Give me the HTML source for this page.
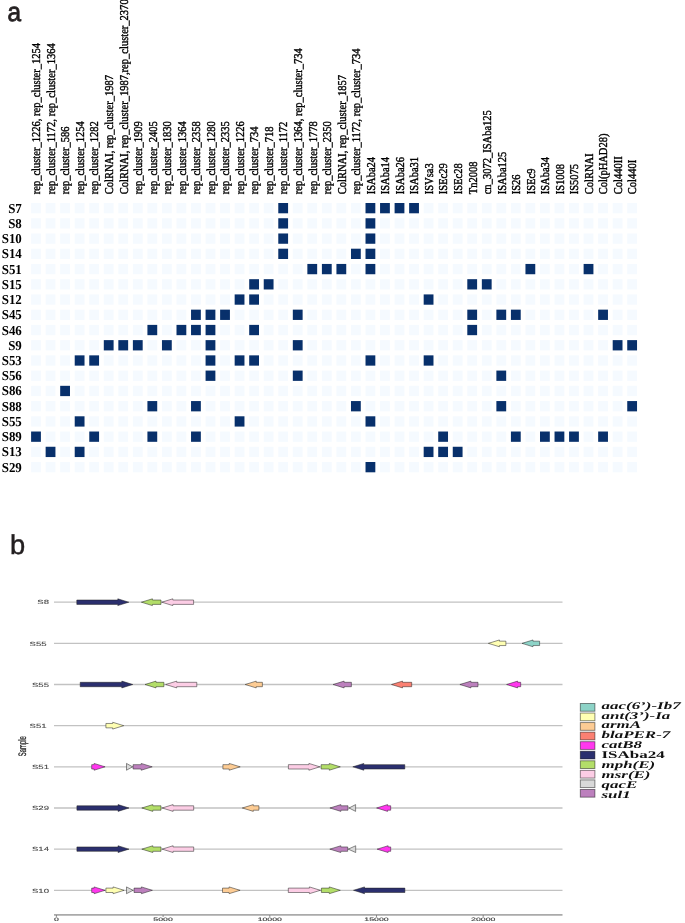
<!DOCTYPE html><html><head><meta charset="utf-8"><style>html,body{margin:0;padding:0;background:#fff;width:685px;height:923px;overflow:hidden}svg{display:block;will-change:transform}</style></head><body><svg width="685" height="923" viewBox="0 0 685 923" text-rendering="geometricPrecision">
<rect width="685" height="923" fill="#fff"/>
<text transform="translate(7.6,21.2) scale(0.92,1)" font-family="Liberation Sans, sans-serif" font-size="26.5" fill="#231f20" stroke="#231f20" stroke-width="0.8">a</text>
<text transform="translate(40.30,194.30) rotate(-90) scale(0.877,1)" font-family="Liberation Serif, serif" font-size="12.0" fill="#000" stroke="#000" stroke-width="0.4">rep_cluster_1226, rep_cluster_1254</text>
<text transform="translate(54.84,194.30) rotate(-90) scale(0.877,1)" font-family="Liberation Serif, serif" font-size="12.0" fill="#000" stroke="#000" stroke-width="0.4">rep_cluster_1172, rep_cluster_1364</text>
<text transform="translate(69.38,194.30) rotate(-90) scale(0.877,1)" font-family="Liberation Serif, serif" font-size="12.0" fill="#000" stroke="#000" stroke-width="0.4">rep_cluster_586</text>
<text transform="translate(83.92,194.30) rotate(-90) scale(0.877,1)" font-family="Liberation Serif, serif" font-size="12.0" fill="#000" stroke="#000" stroke-width="0.4">rep_cluster_1254</text>
<text transform="translate(98.46,194.30) rotate(-90) scale(0.877,1)" font-family="Liberation Serif, serif" font-size="12.0" fill="#000" stroke="#000" stroke-width="0.4">rep_cluster_1282</text>
<text transform="translate(113.00,194.30) rotate(-90) scale(0.877,1)" font-family="Liberation Serif, serif" font-size="12.0" fill="#000" stroke="#000" stroke-width="0.4">ColRNAI, rep_cluster_1987</text>
<text transform="translate(127.54,194.30) rotate(-90) scale(0.877,1)" font-family="Liberation Serif, serif" font-size="12.0" fill="#000" stroke="#000" stroke-width="0.4">ColRNAI, rep_cluster_1987,rep_cluster_2370</text>
<text transform="translate(142.08,194.30) rotate(-90) scale(0.877,1)" font-family="Liberation Serif, serif" font-size="12.0" fill="#000" stroke="#000" stroke-width="0.4">rep_cluster_1909</text>
<text transform="translate(156.62,194.30) rotate(-90) scale(0.877,1)" font-family="Liberation Serif, serif" font-size="12.0" fill="#000" stroke="#000" stroke-width="0.4">rep_cluster_2405</text>
<text transform="translate(171.16,194.30) rotate(-90) scale(0.877,1)" font-family="Liberation Serif, serif" font-size="12.0" fill="#000" stroke="#000" stroke-width="0.4">rep_cluster_1830</text>
<text transform="translate(185.70,194.30) rotate(-90) scale(0.877,1)" font-family="Liberation Serif, serif" font-size="12.0" fill="#000" stroke="#000" stroke-width="0.4">rep_cluster_1364</text>
<text transform="translate(200.24,194.30) rotate(-90) scale(0.877,1)" font-family="Liberation Serif, serif" font-size="12.0" fill="#000" stroke="#000" stroke-width="0.4">rep_cluster_2358</text>
<text transform="translate(214.78,194.30) rotate(-90) scale(0.877,1)" font-family="Liberation Serif, serif" font-size="12.0" fill="#000" stroke="#000" stroke-width="0.4">rep_cluster_1280</text>
<text transform="translate(229.32,194.30) rotate(-90) scale(0.877,1)" font-family="Liberation Serif, serif" font-size="12.0" fill="#000" stroke="#000" stroke-width="0.4">rep_cluster_2335</text>
<text transform="translate(243.86,194.30) rotate(-90) scale(0.877,1)" font-family="Liberation Serif, serif" font-size="12.0" fill="#000" stroke="#000" stroke-width="0.4">rep_cluster_1226</text>
<text transform="translate(258.40,194.30) rotate(-90) scale(0.877,1)" font-family="Liberation Serif, serif" font-size="12.0" fill="#000" stroke="#000" stroke-width="0.4">rep_cluster_734</text>
<text transform="translate(272.94,194.30) rotate(-90) scale(0.877,1)" font-family="Liberation Serif, serif" font-size="12.0" fill="#000" stroke="#000" stroke-width="0.4">rep_cluster_718</text>
<text transform="translate(287.48,194.30) rotate(-90) scale(0.877,1)" font-family="Liberation Serif, serif" font-size="12.0" fill="#000" stroke="#000" stroke-width="0.4">rep_cluster_1172</text>
<text transform="translate(302.02,194.30) rotate(-90) scale(0.877,1)" font-family="Liberation Serif, serif" font-size="12.0" fill="#000" stroke="#000" stroke-width="0.4">rep_cluster_1364, rep_cluster_734</text>
<text transform="translate(316.56,194.30) rotate(-90) scale(0.877,1)" font-family="Liberation Serif, serif" font-size="12.0" fill="#000" stroke="#000" stroke-width="0.4">rep_cluster_1778</text>
<text transform="translate(331.10,194.30) rotate(-90) scale(0.877,1)" font-family="Liberation Serif, serif" font-size="12.0" fill="#000" stroke="#000" stroke-width="0.4">rep_cluster_2350</text>
<text transform="translate(345.64,194.30) rotate(-90) scale(0.877,1)" font-family="Liberation Serif, serif" font-size="12.0" fill="#000" stroke="#000" stroke-width="0.4">ColRNAI, rep_cluster_1857</text>
<text transform="translate(360.18,194.30) rotate(-90) scale(0.877,1)" font-family="Liberation Serif, serif" font-size="12.0" fill="#000" stroke="#000" stroke-width="0.4">rep_cluster_1172, rep_cluster_734</text>
<text transform="translate(374.72,194.30) rotate(-90) scale(0.877,1)" font-family="Liberation Serif, serif" font-size="12.0" fill="#000" stroke="#000" stroke-width="0.4">ISAba24</text>
<text transform="translate(389.26,194.30) rotate(-90) scale(0.877,1)" font-family="Liberation Serif, serif" font-size="12.0" fill="#000" stroke="#000" stroke-width="0.4">ISAba14</text>
<text transform="translate(403.80,194.30) rotate(-90) scale(0.877,1)" font-family="Liberation Serif, serif" font-size="12.0" fill="#000" stroke="#000" stroke-width="0.4">ISAba26</text>
<text transform="translate(418.34,194.30) rotate(-90) scale(0.877,1)" font-family="Liberation Serif, serif" font-size="12.0" fill="#000" stroke="#000" stroke-width="0.4">ISAba31</text>
<text transform="translate(432.88,194.30) rotate(-90) scale(0.877,1)" font-family="Liberation Serif, serif" font-size="12.0" fill="#000" stroke="#000" stroke-width="0.4">ISVsa3</text>
<text transform="translate(447.42,194.30) rotate(-90) scale(0.877,1)" font-family="Liberation Serif, serif" font-size="12.0" fill="#000" stroke="#000" stroke-width="0.4">ISEc29</text>
<text transform="translate(461.96,194.30) rotate(-90) scale(0.877,1)" font-family="Liberation Serif, serif" font-size="12.0" fill="#000" stroke="#000" stroke-width="0.4">ISEc28</text>
<text transform="translate(476.50,194.30) rotate(-90) scale(0.877,1)" font-family="Liberation Serif, serif" font-size="12.0" fill="#000" stroke="#000" stroke-width="0.4">Tn2008</text>
<text transform="translate(491.04,194.30) rotate(-90) scale(0.877,1)" font-family="Liberation Serif, serif" font-size="12.0" fill="#000" stroke="#000" stroke-width="0.4">cn_3072_ISAba125</text>
<text transform="translate(505.58,194.30) rotate(-90) scale(0.877,1)" font-family="Liberation Serif, serif" font-size="12.0" fill="#000" stroke="#000" stroke-width="0.4">ISAba125</text>
<text transform="translate(520.12,194.30) rotate(-90) scale(0.877,1)" font-family="Liberation Serif, serif" font-size="12.0" fill="#000" stroke="#000" stroke-width="0.4">IS26</text>
<text transform="translate(534.66,194.30) rotate(-90) scale(0.877,1)" font-family="Liberation Serif, serif" font-size="12.0" fill="#000" stroke="#000" stroke-width="0.4">ISEc9</text>
<text transform="translate(549.20,194.30) rotate(-90) scale(0.877,1)" font-family="Liberation Serif, serif" font-size="12.0" fill="#000" stroke="#000" stroke-width="0.4">ISAba34</text>
<text transform="translate(563.74,194.30) rotate(-90) scale(0.877,1)" font-family="Liberation Serif, serif" font-size="12.0" fill="#000" stroke="#000" stroke-width="0.4">IS1008</text>
<text transform="translate(578.28,194.30) rotate(-90) scale(0.877,1)" font-family="Liberation Serif, serif" font-size="12.0" fill="#000" stroke="#000" stroke-width="0.4">IS5075</text>
<text transform="translate(592.82,194.30) rotate(-90) scale(0.877,1)" font-family="Liberation Serif, serif" font-size="12.0" fill="#000" stroke="#000" stroke-width="0.4">ColRNAI</text>
<text transform="translate(607.36,194.30) rotate(-90) scale(0.877,1)" font-family="Liberation Serif, serif" font-size="12.0" fill="#000" stroke="#000" stroke-width="0.4">Col(pHAD28)</text>
<text transform="translate(621.90,194.30) rotate(-90) scale(0.877,1)" font-family="Liberation Serif, serif" font-size="12.0" fill="#000" stroke="#000" stroke-width="0.4">Col440II</text>
<text transform="translate(636.44,194.30) rotate(-90) scale(0.877,1)" font-family="Liberation Serif, serif" font-size="12.0" fill="#000" stroke="#000" stroke-width="0.4">Col440I</text>
<text transform="translate(21.8,212.65) scale(0.95,1)" text-anchor="end" font-family="Liberation Serif, serif" font-weight="bold" font-size="13.6" fill="#000">S7</text>
<rect x="31.10" y="203.00" width="9.8" height="10.3" fill="#f5faff"/>
<rect x="45.64" y="203.00" width="9.8" height="10.3" fill="#f5faff"/>
<rect x="60.18" y="203.00" width="9.8" height="10.3" fill="#f5faff"/>
<rect x="74.72" y="203.00" width="9.8" height="10.3" fill="#f5faff"/>
<rect x="89.26" y="203.00" width="9.8" height="10.3" fill="#f5faff"/>
<rect x="103.80" y="203.00" width="9.8" height="10.3" fill="#f5faff"/>
<rect x="118.34" y="203.00" width="9.8" height="10.3" fill="#f5faff"/>
<rect x="132.88" y="203.00" width="9.8" height="10.3" fill="#f5faff"/>
<rect x="147.42" y="203.00" width="9.8" height="10.3" fill="#f5faff"/>
<rect x="161.96" y="203.00" width="9.8" height="10.3" fill="#f5faff"/>
<rect x="176.50" y="203.00" width="9.8" height="10.3" fill="#f5faff"/>
<rect x="191.04" y="203.00" width="9.8" height="10.3" fill="#f5faff"/>
<rect x="205.58" y="203.00" width="9.8" height="10.3" fill="#f5faff"/>
<rect x="220.12" y="203.00" width="9.8" height="10.3" fill="#f5faff"/>
<rect x="234.66" y="203.00" width="9.8" height="10.3" fill="#f5faff"/>
<rect x="249.20" y="203.00" width="9.8" height="10.3" fill="#f5faff"/>
<rect x="263.74" y="203.00" width="9.8" height="10.3" fill="#f5faff"/>
<rect x="278.28" y="203.00" width="9.8" height="10.3" fill="#08306b"/>
<rect x="292.82" y="203.00" width="9.8" height="10.3" fill="#f5faff"/>
<rect x="307.36" y="203.00" width="9.8" height="10.3" fill="#f5faff"/>
<rect x="321.90" y="203.00" width="9.8" height="10.3" fill="#f5faff"/>
<rect x="336.44" y="203.00" width="9.8" height="10.3" fill="#f5faff"/>
<rect x="350.98" y="203.00" width="9.8" height="10.3" fill="#f5faff"/>
<rect x="365.52" y="203.00" width="9.8" height="10.3" fill="#08306b"/>
<rect x="380.06" y="203.00" width="9.8" height="10.3" fill="#08306b"/>
<rect x="394.60" y="203.00" width="9.8" height="10.3" fill="#08306b"/>
<rect x="409.14" y="203.00" width="9.8" height="10.3" fill="#08306b"/>
<rect x="423.68" y="203.00" width="9.8" height="10.3" fill="#f5faff"/>
<rect x="438.22" y="203.00" width="9.8" height="10.3" fill="#f5faff"/>
<rect x="452.76" y="203.00" width="9.8" height="10.3" fill="#f5faff"/>
<rect x="467.30" y="203.00" width="9.8" height="10.3" fill="#f5faff"/>
<rect x="481.84" y="203.00" width="9.8" height="10.3" fill="#f5faff"/>
<rect x="496.38" y="203.00" width="9.8" height="10.3" fill="#f5faff"/>
<rect x="510.92" y="203.00" width="9.8" height="10.3" fill="#f5faff"/>
<rect x="525.46" y="203.00" width="9.8" height="10.3" fill="#f5faff"/>
<rect x="540.00" y="203.00" width="9.8" height="10.3" fill="#f5faff"/>
<rect x="554.54" y="203.00" width="9.8" height="10.3" fill="#f5faff"/>
<rect x="569.08" y="203.00" width="9.8" height="10.3" fill="#f5faff"/>
<rect x="583.62" y="203.00" width="9.8" height="10.3" fill="#f5faff"/>
<rect x="598.16" y="203.00" width="9.8" height="10.3" fill="#f5faff"/>
<rect x="612.70" y="203.00" width="9.8" height="10.3" fill="#f5faff"/>
<rect x="627.24" y="203.00" width="9.8" height="10.3" fill="#f5faff"/>
<text transform="translate(21.8,227.89) scale(0.95,1)" text-anchor="end" font-family="Liberation Serif, serif" font-weight="bold" font-size="13.6" fill="#000">S8</text>
<rect x="31.10" y="218.24" width="9.8" height="10.3" fill="#f5faff"/>
<rect x="45.64" y="218.24" width="9.8" height="10.3" fill="#f5faff"/>
<rect x="60.18" y="218.24" width="9.8" height="10.3" fill="#f5faff"/>
<rect x="74.72" y="218.24" width="9.8" height="10.3" fill="#f5faff"/>
<rect x="89.26" y="218.24" width="9.8" height="10.3" fill="#f5faff"/>
<rect x="103.80" y="218.24" width="9.8" height="10.3" fill="#f5faff"/>
<rect x="118.34" y="218.24" width="9.8" height="10.3" fill="#f5faff"/>
<rect x="132.88" y="218.24" width="9.8" height="10.3" fill="#f5faff"/>
<rect x="147.42" y="218.24" width="9.8" height="10.3" fill="#f5faff"/>
<rect x="161.96" y="218.24" width="9.8" height="10.3" fill="#f5faff"/>
<rect x="176.50" y="218.24" width="9.8" height="10.3" fill="#f5faff"/>
<rect x="191.04" y="218.24" width="9.8" height="10.3" fill="#f5faff"/>
<rect x="205.58" y="218.24" width="9.8" height="10.3" fill="#f5faff"/>
<rect x="220.12" y="218.24" width="9.8" height="10.3" fill="#f5faff"/>
<rect x="234.66" y="218.24" width="9.8" height="10.3" fill="#f5faff"/>
<rect x="249.20" y="218.24" width="9.8" height="10.3" fill="#f5faff"/>
<rect x="263.74" y="218.24" width="9.8" height="10.3" fill="#f5faff"/>
<rect x="278.28" y="218.24" width="9.8" height="10.3" fill="#08306b"/>
<rect x="292.82" y="218.24" width="9.8" height="10.3" fill="#f5faff"/>
<rect x="307.36" y="218.24" width="9.8" height="10.3" fill="#f5faff"/>
<rect x="321.90" y="218.24" width="9.8" height="10.3" fill="#f5faff"/>
<rect x="336.44" y="218.24" width="9.8" height="10.3" fill="#f5faff"/>
<rect x="350.98" y="218.24" width="9.8" height="10.3" fill="#f5faff"/>
<rect x="365.52" y="218.24" width="9.8" height="10.3" fill="#08306b"/>
<rect x="380.06" y="218.24" width="9.8" height="10.3" fill="#f5faff"/>
<rect x="394.60" y="218.24" width="9.8" height="10.3" fill="#f5faff"/>
<rect x="409.14" y="218.24" width="9.8" height="10.3" fill="#f5faff"/>
<rect x="423.68" y="218.24" width="9.8" height="10.3" fill="#f5faff"/>
<rect x="438.22" y="218.24" width="9.8" height="10.3" fill="#f5faff"/>
<rect x="452.76" y="218.24" width="9.8" height="10.3" fill="#f5faff"/>
<rect x="467.30" y="218.24" width="9.8" height="10.3" fill="#f5faff"/>
<rect x="481.84" y="218.24" width="9.8" height="10.3" fill="#f5faff"/>
<rect x="496.38" y="218.24" width="9.8" height="10.3" fill="#f5faff"/>
<rect x="510.92" y="218.24" width="9.8" height="10.3" fill="#f5faff"/>
<rect x="525.46" y="218.24" width="9.8" height="10.3" fill="#f5faff"/>
<rect x="540.00" y="218.24" width="9.8" height="10.3" fill="#f5faff"/>
<rect x="554.54" y="218.24" width="9.8" height="10.3" fill="#f5faff"/>
<rect x="569.08" y="218.24" width="9.8" height="10.3" fill="#f5faff"/>
<rect x="583.62" y="218.24" width="9.8" height="10.3" fill="#f5faff"/>
<rect x="598.16" y="218.24" width="9.8" height="10.3" fill="#f5faff"/>
<rect x="612.70" y="218.24" width="9.8" height="10.3" fill="#f5faff"/>
<rect x="627.24" y="218.24" width="9.8" height="10.3" fill="#f5faff"/>
<text transform="translate(21.8,243.12) scale(0.95,1)" text-anchor="end" font-family="Liberation Serif, serif" font-weight="bold" font-size="13.6" fill="#000">S10</text>
<rect x="31.10" y="233.47" width="9.8" height="10.3" fill="#f5faff"/>
<rect x="45.64" y="233.47" width="9.8" height="10.3" fill="#f5faff"/>
<rect x="60.18" y="233.47" width="9.8" height="10.3" fill="#f5faff"/>
<rect x="74.72" y="233.47" width="9.8" height="10.3" fill="#f5faff"/>
<rect x="89.26" y="233.47" width="9.8" height="10.3" fill="#f5faff"/>
<rect x="103.80" y="233.47" width="9.8" height="10.3" fill="#f5faff"/>
<rect x="118.34" y="233.47" width="9.8" height="10.3" fill="#f5faff"/>
<rect x="132.88" y="233.47" width="9.8" height="10.3" fill="#f5faff"/>
<rect x="147.42" y="233.47" width="9.8" height="10.3" fill="#f5faff"/>
<rect x="161.96" y="233.47" width="9.8" height="10.3" fill="#f5faff"/>
<rect x="176.50" y="233.47" width="9.8" height="10.3" fill="#f5faff"/>
<rect x="191.04" y="233.47" width="9.8" height="10.3" fill="#f5faff"/>
<rect x="205.58" y="233.47" width="9.8" height="10.3" fill="#f5faff"/>
<rect x="220.12" y="233.47" width="9.8" height="10.3" fill="#f5faff"/>
<rect x="234.66" y="233.47" width="9.8" height="10.3" fill="#f5faff"/>
<rect x="249.20" y="233.47" width="9.8" height="10.3" fill="#f5faff"/>
<rect x="263.74" y="233.47" width="9.8" height="10.3" fill="#f5faff"/>
<rect x="278.28" y="233.47" width="9.8" height="10.3" fill="#08306b"/>
<rect x="292.82" y="233.47" width="9.8" height="10.3" fill="#f5faff"/>
<rect x="307.36" y="233.47" width="9.8" height="10.3" fill="#f5faff"/>
<rect x="321.90" y="233.47" width="9.8" height="10.3" fill="#f5faff"/>
<rect x="336.44" y="233.47" width="9.8" height="10.3" fill="#f5faff"/>
<rect x="350.98" y="233.47" width="9.8" height="10.3" fill="#f5faff"/>
<rect x="365.52" y="233.47" width="9.8" height="10.3" fill="#08306b"/>
<rect x="380.06" y="233.47" width="9.8" height="10.3" fill="#f5faff"/>
<rect x="394.60" y="233.47" width="9.8" height="10.3" fill="#f5faff"/>
<rect x="409.14" y="233.47" width="9.8" height="10.3" fill="#f5faff"/>
<rect x="423.68" y="233.47" width="9.8" height="10.3" fill="#f5faff"/>
<rect x="438.22" y="233.47" width="9.8" height="10.3" fill="#f5faff"/>
<rect x="452.76" y="233.47" width="9.8" height="10.3" fill="#f5faff"/>
<rect x="467.30" y="233.47" width="9.8" height="10.3" fill="#f5faff"/>
<rect x="481.84" y="233.47" width="9.8" height="10.3" fill="#f5faff"/>
<rect x="496.38" y="233.47" width="9.8" height="10.3" fill="#f5faff"/>
<rect x="510.92" y="233.47" width="9.8" height="10.3" fill="#f5faff"/>
<rect x="525.46" y="233.47" width="9.8" height="10.3" fill="#f5faff"/>
<rect x="540.00" y="233.47" width="9.8" height="10.3" fill="#f5faff"/>
<rect x="554.54" y="233.47" width="9.8" height="10.3" fill="#f5faff"/>
<rect x="569.08" y="233.47" width="9.8" height="10.3" fill="#f5faff"/>
<rect x="583.62" y="233.47" width="9.8" height="10.3" fill="#f5faff"/>
<rect x="598.16" y="233.47" width="9.8" height="10.3" fill="#f5faff"/>
<rect x="612.70" y="233.47" width="9.8" height="10.3" fill="#f5faff"/>
<rect x="627.24" y="233.47" width="9.8" height="10.3" fill="#f5faff"/>
<text transform="translate(21.8,258.35) scale(0.95,1)" text-anchor="end" font-family="Liberation Serif, serif" font-weight="bold" font-size="13.6" fill="#000">S14</text>
<rect x="31.10" y="248.70" width="9.8" height="10.3" fill="#f5faff"/>
<rect x="45.64" y="248.70" width="9.8" height="10.3" fill="#f5faff"/>
<rect x="60.18" y="248.70" width="9.8" height="10.3" fill="#f5faff"/>
<rect x="74.72" y="248.70" width="9.8" height="10.3" fill="#f5faff"/>
<rect x="89.26" y="248.70" width="9.8" height="10.3" fill="#f5faff"/>
<rect x="103.80" y="248.70" width="9.8" height="10.3" fill="#f5faff"/>
<rect x="118.34" y="248.70" width="9.8" height="10.3" fill="#f5faff"/>
<rect x="132.88" y="248.70" width="9.8" height="10.3" fill="#f5faff"/>
<rect x="147.42" y="248.70" width="9.8" height="10.3" fill="#f5faff"/>
<rect x="161.96" y="248.70" width="9.8" height="10.3" fill="#f5faff"/>
<rect x="176.50" y="248.70" width="9.8" height="10.3" fill="#f5faff"/>
<rect x="191.04" y="248.70" width="9.8" height="10.3" fill="#f5faff"/>
<rect x="205.58" y="248.70" width="9.8" height="10.3" fill="#f5faff"/>
<rect x="220.12" y="248.70" width="9.8" height="10.3" fill="#f5faff"/>
<rect x="234.66" y="248.70" width="9.8" height="10.3" fill="#f5faff"/>
<rect x="249.20" y="248.70" width="9.8" height="10.3" fill="#f5faff"/>
<rect x="263.74" y="248.70" width="9.8" height="10.3" fill="#f5faff"/>
<rect x="278.28" y="248.70" width="9.8" height="10.3" fill="#08306b"/>
<rect x="292.82" y="248.70" width="9.8" height="10.3" fill="#f5faff"/>
<rect x="307.36" y="248.70" width="9.8" height="10.3" fill="#f5faff"/>
<rect x="321.90" y="248.70" width="9.8" height="10.3" fill="#f5faff"/>
<rect x="336.44" y="248.70" width="9.8" height="10.3" fill="#f5faff"/>
<rect x="350.98" y="248.70" width="9.8" height="10.3" fill="#08306b"/>
<rect x="365.52" y="248.70" width="9.8" height="10.3" fill="#08306b"/>
<rect x="380.06" y="248.70" width="9.8" height="10.3" fill="#f5faff"/>
<rect x="394.60" y="248.70" width="9.8" height="10.3" fill="#f5faff"/>
<rect x="409.14" y="248.70" width="9.8" height="10.3" fill="#f5faff"/>
<rect x="423.68" y="248.70" width="9.8" height="10.3" fill="#f5faff"/>
<rect x="438.22" y="248.70" width="9.8" height="10.3" fill="#f5faff"/>
<rect x="452.76" y="248.70" width="9.8" height="10.3" fill="#f5faff"/>
<rect x="467.30" y="248.70" width="9.8" height="10.3" fill="#f5faff"/>
<rect x="481.84" y="248.70" width="9.8" height="10.3" fill="#f5faff"/>
<rect x="496.38" y="248.70" width="9.8" height="10.3" fill="#f5faff"/>
<rect x="510.92" y="248.70" width="9.8" height="10.3" fill="#f5faff"/>
<rect x="525.46" y="248.70" width="9.8" height="10.3" fill="#f5faff"/>
<rect x="540.00" y="248.70" width="9.8" height="10.3" fill="#f5faff"/>
<rect x="554.54" y="248.70" width="9.8" height="10.3" fill="#f5faff"/>
<rect x="569.08" y="248.70" width="9.8" height="10.3" fill="#f5faff"/>
<rect x="583.62" y="248.70" width="9.8" height="10.3" fill="#f5faff"/>
<rect x="598.16" y="248.70" width="9.8" height="10.3" fill="#f5faff"/>
<rect x="612.70" y="248.70" width="9.8" height="10.3" fill="#f5faff"/>
<rect x="627.24" y="248.70" width="9.8" height="10.3" fill="#f5faff"/>
<text transform="translate(21.8,273.59) scale(0.95,1)" text-anchor="end" font-family="Liberation Serif, serif" font-weight="bold" font-size="13.6" fill="#000">S51</text>
<rect x="31.10" y="263.94" width="9.8" height="10.3" fill="#f5faff"/>
<rect x="45.64" y="263.94" width="9.8" height="10.3" fill="#f5faff"/>
<rect x="60.18" y="263.94" width="9.8" height="10.3" fill="#f5faff"/>
<rect x="74.72" y="263.94" width="9.8" height="10.3" fill="#f5faff"/>
<rect x="89.26" y="263.94" width="9.8" height="10.3" fill="#f5faff"/>
<rect x="103.80" y="263.94" width="9.8" height="10.3" fill="#f5faff"/>
<rect x="118.34" y="263.94" width="9.8" height="10.3" fill="#f5faff"/>
<rect x="132.88" y="263.94" width="9.8" height="10.3" fill="#f5faff"/>
<rect x="147.42" y="263.94" width="9.8" height="10.3" fill="#f5faff"/>
<rect x="161.96" y="263.94" width="9.8" height="10.3" fill="#f5faff"/>
<rect x="176.50" y="263.94" width="9.8" height="10.3" fill="#f5faff"/>
<rect x="191.04" y="263.94" width="9.8" height="10.3" fill="#f5faff"/>
<rect x="205.58" y="263.94" width="9.8" height="10.3" fill="#f5faff"/>
<rect x="220.12" y="263.94" width="9.8" height="10.3" fill="#f5faff"/>
<rect x="234.66" y="263.94" width="9.8" height="10.3" fill="#f5faff"/>
<rect x="249.20" y="263.94" width="9.8" height="10.3" fill="#f5faff"/>
<rect x="263.74" y="263.94" width="9.8" height="10.3" fill="#f5faff"/>
<rect x="278.28" y="263.94" width="9.8" height="10.3" fill="#f5faff"/>
<rect x="292.82" y="263.94" width="9.8" height="10.3" fill="#f5faff"/>
<rect x="307.36" y="263.94" width="9.8" height="10.3" fill="#08306b"/>
<rect x="321.90" y="263.94" width="9.8" height="10.3" fill="#08306b"/>
<rect x="336.44" y="263.94" width="9.8" height="10.3" fill="#08306b"/>
<rect x="350.98" y="263.94" width="9.8" height="10.3" fill="#f5faff"/>
<rect x="365.52" y="263.94" width="9.8" height="10.3" fill="#08306b"/>
<rect x="380.06" y="263.94" width="9.8" height="10.3" fill="#f5faff"/>
<rect x="394.60" y="263.94" width="9.8" height="10.3" fill="#f5faff"/>
<rect x="409.14" y="263.94" width="9.8" height="10.3" fill="#f5faff"/>
<rect x="423.68" y="263.94" width="9.8" height="10.3" fill="#f5faff"/>
<rect x="438.22" y="263.94" width="9.8" height="10.3" fill="#f5faff"/>
<rect x="452.76" y="263.94" width="9.8" height="10.3" fill="#f5faff"/>
<rect x="467.30" y="263.94" width="9.8" height="10.3" fill="#f5faff"/>
<rect x="481.84" y="263.94" width="9.8" height="10.3" fill="#f5faff"/>
<rect x="496.38" y="263.94" width="9.8" height="10.3" fill="#f5faff"/>
<rect x="510.92" y="263.94" width="9.8" height="10.3" fill="#f5faff"/>
<rect x="525.46" y="263.94" width="9.8" height="10.3" fill="#08306b"/>
<rect x="540.00" y="263.94" width="9.8" height="10.3" fill="#f5faff"/>
<rect x="554.54" y="263.94" width="9.8" height="10.3" fill="#f5faff"/>
<rect x="569.08" y="263.94" width="9.8" height="10.3" fill="#f5faff"/>
<rect x="583.62" y="263.94" width="9.8" height="10.3" fill="#08306b"/>
<rect x="598.16" y="263.94" width="9.8" height="10.3" fill="#f5faff"/>
<rect x="612.70" y="263.94" width="9.8" height="10.3" fill="#f5faff"/>
<rect x="627.24" y="263.94" width="9.8" height="10.3" fill="#f5faff"/>
<text transform="translate(21.8,288.82) scale(0.95,1)" text-anchor="end" font-family="Liberation Serif, serif" font-weight="bold" font-size="13.6" fill="#000">S15</text>
<rect x="31.10" y="279.18" width="9.8" height="10.3" fill="#f5faff"/>
<rect x="45.64" y="279.18" width="9.8" height="10.3" fill="#f5faff"/>
<rect x="60.18" y="279.18" width="9.8" height="10.3" fill="#f5faff"/>
<rect x="74.72" y="279.18" width="9.8" height="10.3" fill="#f5faff"/>
<rect x="89.26" y="279.18" width="9.8" height="10.3" fill="#f5faff"/>
<rect x="103.80" y="279.18" width="9.8" height="10.3" fill="#f5faff"/>
<rect x="118.34" y="279.18" width="9.8" height="10.3" fill="#f5faff"/>
<rect x="132.88" y="279.18" width="9.8" height="10.3" fill="#f5faff"/>
<rect x="147.42" y="279.18" width="9.8" height="10.3" fill="#f5faff"/>
<rect x="161.96" y="279.18" width="9.8" height="10.3" fill="#f5faff"/>
<rect x="176.50" y="279.18" width="9.8" height="10.3" fill="#f5faff"/>
<rect x="191.04" y="279.18" width="9.8" height="10.3" fill="#f5faff"/>
<rect x="205.58" y="279.18" width="9.8" height="10.3" fill="#f5faff"/>
<rect x="220.12" y="279.18" width="9.8" height="10.3" fill="#f5faff"/>
<rect x="234.66" y="279.18" width="9.8" height="10.3" fill="#f5faff"/>
<rect x="249.20" y="279.18" width="9.8" height="10.3" fill="#08306b"/>
<rect x="263.74" y="279.18" width="9.8" height="10.3" fill="#08306b"/>
<rect x="278.28" y="279.18" width="9.8" height="10.3" fill="#f5faff"/>
<rect x="292.82" y="279.18" width="9.8" height="10.3" fill="#f5faff"/>
<rect x="307.36" y="279.18" width="9.8" height="10.3" fill="#f5faff"/>
<rect x="321.90" y="279.18" width="9.8" height="10.3" fill="#f5faff"/>
<rect x="336.44" y="279.18" width="9.8" height="10.3" fill="#f5faff"/>
<rect x="350.98" y="279.18" width="9.8" height="10.3" fill="#f5faff"/>
<rect x="365.52" y="279.18" width="9.8" height="10.3" fill="#f5faff"/>
<rect x="380.06" y="279.18" width="9.8" height="10.3" fill="#f5faff"/>
<rect x="394.60" y="279.18" width="9.8" height="10.3" fill="#f5faff"/>
<rect x="409.14" y="279.18" width="9.8" height="10.3" fill="#f5faff"/>
<rect x="423.68" y="279.18" width="9.8" height="10.3" fill="#f5faff"/>
<rect x="438.22" y="279.18" width="9.8" height="10.3" fill="#f5faff"/>
<rect x="452.76" y="279.18" width="9.8" height="10.3" fill="#f5faff"/>
<rect x="467.30" y="279.18" width="9.8" height="10.3" fill="#08306b"/>
<rect x="481.84" y="279.18" width="9.8" height="10.3" fill="#08306b"/>
<rect x="496.38" y="279.18" width="9.8" height="10.3" fill="#f5faff"/>
<rect x="510.92" y="279.18" width="9.8" height="10.3" fill="#f5faff"/>
<rect x="525.46" y="279.18" width="9.8" height="10.3" fill="#f5faff"/>
<rect x="540.00" y="279.18" width="9.8" height="10.3" fill="#f5faff"/>
<rect x="554.54" y="279.18" width="9.8" height="10.3" fill="#f5faff"/>
<rect x="569.08" y="279.18" width="9.8" height="10.3" fill="#f5faff"/>
<rect x="583.62" y="279.18" width="9.8" height="10.3" fill="#f5faff"/>
<rect x="598.16" y="279.18" width="9.8" height="10.3" fill="#f5faff"/>
<rect x="612.70" y="279.18" width="9.8" height="10.3" fill="#f5faff"/>
<rect x="627.24" y="279.18" width="9.8" height="10.3" fill="#f5faff"/>
<text transform="translate(21.8,304.06) scale(0.95,1)" text-anchor="end" font-family="Liberation Serif, serif" font-weight="bold" font-size="13.6" fill="#000">S12</text>
<rect x="31.10" y="294.41" width="9.8" height="10.3" fill="#f5faff"/>
<rect x="45.64" y="294.41" width="9.8" height="10.3" fill="#f5faff"/>
<rect x="60.18" y="294.41" width="9.8" height="10.3" fill="#f5faff"/>
<rect x="74.72" y="294.41" width="9.8" height="10.3" fill="#f5faff"/>
<rect x="89.26" y="294.41" width="9.8" height="10.3" fill="#f5faff"/>
<rect x="103.80" y="294.41" width="9.8" height="10.3" fill="#f5faff"/>
<rect x="118.34" y="294.41" width="9.8" height="10.3" fill="#f5faff"/>
<rect x="132.88" y="294.41" width="9.8" height="10.3" fill="#f5faff"/>
<rect x="147.42" y="294.41" width="9.8" height="10.3" fill="#f5faff"/>
<rect x="161.96" y="294.41" width="9.8" height="10.3" fill="#f5faff"/>
<rect x="176.50" y="294.41" width="9.8" height="10.3" fill="#f5faff"/>
<rect x="191.04" y="294.41" width="9.8" height="10.3" fill="#f5faff"/>
<rect x="205.58" y="294.41" width="9.8" height="10.3" fill="#f5faff"/>
<rect x="220.12" y="294.41" width="9.8" height="10.3" fill="#f5faff"/>
<rect x="234.66" y="294.41" width="9.8" height="10.3" fill="#08306b"/>
<rect x="249.20" y="294.41" width="9.8" height="10.3" fill="#08306b"/>
<rect x="263.74" y="294.41" width="9.8" height="10.3" fill="#f5faff"/>
<rect x="278.28" y="294.41" width="9.8" height="10.3" fill="#f5faff"/>
<rect x="292.82" y="294.41" width="9.8" height="10.3" fill="#f5faff"/>
<rect x="307.36" y="294.41" width="9.8" height="10.3" fill="#f5faff"/>
<rect x="321.90" y="294.41" width="9.8" height="10.3" fill="#f5faff"/>
<rect x="336.44" y="294.41" width="9.8" height="10.3" fill="#f5faff"/>
<rect x="350.98" y="294.41" width="9.8" height="10.3" fill="#f5faff"/>
<rect x="365.52" y="294.41" width="9.8" height="10.3" fill="#f5faff"/>
<rect x="380.06" y="294.41" width="9.8" height="10.3" fill="#f5faff"/>
<rect x="394.60" y="294.41" width="9.8" height="10.3" fill="#f5faff"/>
<rect x="409.14" y="294.41" width="9.8" height="10.3" fill="#f5faff"/>
<rect x="423.68" y="294.41" width="9.8" height="10.3" fill="#08306b"/>
<rect x="438.22" y="294.41" width="9.8" height="10.3" fill="#f5faff"/>
<rect x="452.76" y="294.41" width="9.8" height="10.3" fill="#f5faff"/>
<rect x="467.30" y="294.41" width="9.8" height="10.3" fill="#f5faff"/>
<rect x="481.84" y="294.41" width="9.8" height="10.3" fill="#f5faff"/>
<rect x="496.38" y="294.41" width="9.8" height="10.3" fill="#f5faff"/>
<rect x="510.92" y="294.41" width="9.8" height="10.3" fill="#f5faff"/>
<rect x="525.46" y="294.41" width="9.8" height="10.3" fill="#f5faff"/>
<rect x="540.00" y="294.41" width="9.8" height="10.3" fill="#f5faff"/>
<rect x="554.54" y="294.41" width="9.8" height="10.3" fill="#f5faff"/>
<rect x="569.08" y="294.41" width="9.8" height="10.3" fill="#f5faff"/>
<rect x="583.62" y="294.41" width="9.8" height="10.3" fill="#f5faff"/>
<rect x="598.16" y="294.41" width="9.8" height="10.3" fill="#f5faff"/>
<rect x="612.70" y="294.41" width="9.8" height="10.3" fill="#f5faff"/>
<rect x="627.24" y="294.41" width="9.8" height="10.3" fill="#f5faff"/>
<text transform="translate(21.8,319.29) scale(0.95,1)" text-anchor="end" font-family="Liberation Serif, serif" font-weight="bold" font-size="13.6" fill="#000">S45</text>
<rect x="31.10" y="309.64" width="9.8" height="10.3" fill="#f5faff"/>
<rect x="45.64" y="309.64" width="9.8" height="10.3" fill="#f5faff"/>
<rect x="60.18" y="309.64" width="9.8" height="10.3" fill="#f5faff"/>
<rect x="74.72" y="309.64" width="9.8" height="10.3" fill="#f5faff"/>
<rect x="89.26" y="309.64" width="9.8" height="10.3" fill="#f5faff"/>
<rect x="103.80" y="309.64" width="9.8" height="10.3" fill="#f5faff"/>
<rect x="118.34" y="309.64" width="9.8" height="10.3" fill="#f5faff"/>
<rect x="132.88" y="309.64" width="9.8" height="10.3" fill="#f5faff"/>
<rect x="147.42" y="309.64" width="9.8" height="10.3" fill="#f5faff"/>
<rect x="161.96" y="309.64" width="9.8" height="10.3" fill="#f5faff"/>
<rect x="176.50" y="309.64" width="9.8" height="10.3" fill="#f5faff"/>
<rect x="191.04" y="309.64" width="9.8" height="10.3" fill="#08306b"/>
<rect x="205.58" y="309.64" width="9.8" height="10.3" fill="#08306b"/>
<rect x="220.12" y="309.64" width="9.8" height="10.3" fill="#08306b"/>
<rect x="234.66" y="309.64" width="9.8" height="10.3" fill="#f5faff"/>
<rect x="249.20" y="309.64" width="9.8" height="10.3" fill="#f5faff"/>
<rect x="263.74" y="309.64" width="9.8" height="10.3" fill="#f5faff"/>
<rect x="278.28" y="309.64" width="9.8" height="10.3" fill="#f5faff"/>
<rect x="292.82" y="309.64" width="9.8" height="10.3" fill="#08306b"/>
<rect x="307.36" y="309.64" width="9.8" height="10.3" fill="#f5faff"/>
<rect x="321.90" y="309.64" width="9.8" height="10.3" fill="#f5faff"/>
<rect x="336.44" y="309.64" width="9.8" height="10.3" fill="#f5faff"/>
<rect x="350.98" y="309.64" width="9.8" height="10.3" fill="#f5faff"/>
<rect x="365.52" y="309.64" width="9.8" height="10.3" fill="#f5faff"/>
<rect x="380.06" y="309.64" width="9.8" height="10.3" fill="#f5faff"/>
<rect x="394.60" y="309.64" width="9.8" height="10.3" fill="#f5faff"/>
<rect x="409.14" y="309.64" width="9.8" height="10.3" fill="#f5faff"/>
<rect x="423.68" y="309.64" width="9.8" height="10.3" fill="#f5faff"/>
<rect x="438.22" y="309.64" width="9.8" height="10.3" fill="#f5faff"/>
<rect x="452.76" y="309.64" width="9.8" height="10.3" fill="#f5faff"/>
<rect x="467.30" y="309.64" width="9.8" height="10.3" fill="#08306b"/>
<rect x="481.84" y="309.64" width="9.8" height="10.3" fill="#f5faff"/>
<rect x="496.38" y="309.64" width="9.8" height="10.3" fill="#08306b"/>
<rect x="510.92" y="309.64" width="9.8" height="10.3" fill="#08306b"/>
<rect x="525.46" y="309.64" width="9.8" height="10.3" fill="#f5faff"/>
<rect x="540.00" y="309.64" width="9.8" height="10.3" fill="#f5faff"/>
<rect x="554.54" y="309.64" width="9.8" height="10.3" fill="#f5faff"/>
<rect x="569.08" y="309.64" width="9.8" height="10.3" fill="#f5faff"/>
<rect x="583.62" y="309.64" width="9.8" height="10.3" fill="#f5faff"/>
<rect x="598.16" y="309.64" width="9.8" height="10.3" fill="#08306b"/>
<rect x="612.70" y="309.64" width="9.8" height="10.3" fill="#f5faff"/>
<rect x="627.24" y="309.64" width="9.8" height="10.3" fill="#f5faff"/>
<text transform="translate(21.8,334.53) scale(0.95,1)" text-anchor="end" font-family="Liberation Serif, serif" font-weight="bold" font-size="13.6" fill="#000">S46</text>
<rect x="31.10" y="324.88" width="9.8" height="10.3" fill="#f5faff"/>
<rect x="45.64" y="324.88" width="9.8" height="10.3" fill="#f5faff"/>
<rect x="60.18" y="324.88" width="9.8" height="10.3" fill="#f5faff"/>
<rect x="74.72" y="324.88" width="9.8" height="10.3" fill="#f5faff"/>
<rect x="89.26" y="324.88" width="9.8" height="10.3" fill="#f5faff"/>
<rect x="103.80" y="324.88" width="9.8" height="10.3" fill="#f5faff"/>
<rect x="118.34" y="324.88" width="9.8" height="10.3" fill="#f5faff"/>
<rect x="132.88" y="324.88" width="9.8" height="10.3" fill="#f5faff"/>
<rect x="147.42" y="324.88" width="9.8" height="10.3" fill="#08306b"/>
<rect x="161.96" y="324.88" width="9.8" height="10.3" fill="#f5faff"/>
<rect x="176.50" y="324.88" width="9.8" height="10.3" fill="#08306b"/>
<rect x="191.04" y="324.88" width="9.8" height="10.3" fill="#08306b"/>
<rect x="205.58" y="324.88" width="9.8" height="10.3" fill="#08306b"/>
<rect x="220.12" y="324.88" width="9.8" height="10.3" fill="#f5faff"/>
<rect x="234.66" y="324.88" width="9.8" height="10.3" fill="#f5faff"/>
<rect x="249.20" y="324.88" width="9.8" height="10.3" fill="#08306b"/>
<rect x="263.74" y="324.88" width="9.8" height="10.3" fill="#f5faff"/>
<rect x="278.28" y="324.88" width="9.8" height="10.3" fill="#f5faff"/>
<rect x="292.82" y="324.88" width="9.8" height="10.3" fill="#f5faff"/>
<rect x="307.36" y="324.88" width="9.8" height="10.3" fill="#f5faff"/>
<rect x="321.90" y="324.88" width="9.8" height="10.3" fill="#f5faff"/>
<rect x="336.44" y="324.88" width="9.8" height="10.3" fill="#f5faff"/>
<rect x="350.98" y="324.88" width="9.8" height="10.3" fill="#f5faff"/>
<rect x="365.52" y="324.88" width="9.8" height="10.3" fill="#f5faff"/>
<rect x="380.06" y="324.88" width="9.8" height="10.3" fill="#f5faff"/>
<rect x="394.60" y="324.88" width="9.8" height="10.3" fill="#f5faff"/>
<rect x="409.14" y="324.88" width="9.8" height="10.3" fill="#f5faff"/>
<rect x="423.68" y="324.88" width="9.8" height="10.3" fill="#f5faff"/>
<rect x="438.22" y="324.88" width="9.8" height="10.3" fill="#f5faff"/>
<rect x="452.76" y="324.88" width="9.8" height="10.3" fill="#f5faff"/>
<rect x="467.30" y="324.88" width="9.8" height="10.3" fill="#08306b"/>
<rect x="481.84" y="324.88" width="9.8" height="10.3" fill="#f5faff"/>
<rect x="496.38" y="324.88" width="9.8" height="10.3" fill="#f5faff"/>
<rect x="510.92" y="324.88" width="9.8" height="10.3" fill="#f5faff"/>
<rect x="525.46" y="324.88" width="9.8" height="10.3" fill="#f5faff"/>
<rect x="540.00" y="324.88" width="9.8" height="10.3" fill="#f5faff"/>
<rect x="554.54" y="324.88" width="9.8" height="10.3" fill="#f5faff"/>
<rect x="569.08" y="324.88" width="9.8" height="10.3" fill="#f5faff"/>
<rect x="583.62" y="324.88" width="9.8" height="10.3" fill="#f5faff"/>
<rect x="598.16" y="324.88" width="9.8" height="10.3" fill="#f5faff"/>
<rect x="612.70" y="324.88" width="9.8" height="10.3" fill="#f5faff"/>
<rect x="627.24" y="324.88" width="9.8" height="10.3" fill="#f5faff"/>
<text transform="translate(21.8,349.76) scale(0.95,1)" text-anchor="end" font-family="Liberation Serif, serif" font-weight="bold" font-size="13.6" fill="#000">S9</text>
<rect x="31.10" y="340.12" width="9.8" height="10.3" fill="#f5faff"/>
<rect x="45.64" y="340.12" width="9.8" height="10.3" fill="#f5faff"/>
<rect x="60.18" y="340.12" width="9.8" height="10.3" fill="#f5faff"/>
<rect x="74.72" y="340.12" width="9.8" height="10.3" fill="#f5faff"/>
<rect x="89.26" y="340.12" width="9.8" height="10.3" fill="#f5faff"/>
<rect x="103.80" y="340.12" width="9.8" height="10.3" fill="#08306b"/>
<rect x="118.34" y="340.12" width="9.8" height="10.3" fill="#08306b"/>
<rect x="132.88" y="340.12" width="9.8" height="10.3" fill="#08306b"/>
<rect x="147.42" y="340.12" width="9.8" height="10.3" fill="#f5faff"/>
<rect x="161.96" y="340.12" width="9.8" height="10.3" fill="#08306b"/>
<rect x="176.50" y="340.12" width="9.8" height="10.3" fill="#f5faff"/>
<rect x="191.04" y="340.12" width="9.8" height="10.3" fill="#f5faff"/>
<rect x="205.58" y="340.12" width="9.8" height="10.3" fill="#08306b"/>
<rect x="220.12" y="340.12" width="9.8" height="10.3" fill="#f5faff"/>
<rect x="234.66" y="340.12" width="9.8" height="10.3" fill="#f5faff"/>
<rect x="249.20" y="340.12" width="9.8" height="10.3" fill="#f5faff"/>
<rect x="263.74" y="340.12" width="9.8" height="10.3" fill="#f5faff"/>
<rect x="278.28" y="340.12" width="9.8" height="10.3" fill="#f5faff"/>
<rect x="292.82" y="340.12" width="9.8" height="10.3" fill="#08306b"/>
<rect x="307.36" y="340.12" width="9.8" height="10.3" fill="#f5faff"/>
<rect x="321.90" y="340.12" width="9.8" height="10.3" fill="#f5faff"/>
<rect x="336.44" y="340.12" width="9.8" height="10.3" fill="#f5faff"/>
<rect x="350.98" y="340.12" width="9.8" height="10.3" fill="#f5faff"/>
<rect x="365.52" y="340.12" width="9.8" height="10.3" fill="#f5faff"/>
<rect x="380.06" y="340.12" width="9.8" height="10.3" fill="#f5faff"/>
<rect x="394.60" y="340.12" width="9.8" height="10.3" fill="#f5faff"/>
<rect x="409.14" y="340.12" width="9.8" height="10.3" fill="#f5faff"/>
<rect x="423.68" y="340.12" width="9.8" height="10.3" fill="#f5faff"/>
<rect x="438.22" y="340.12" width="9.8" height="10.3" fill="#f5faff"/>
<rect x="452.76" y="340.12" width="9.8" height="10.3" fill="#f5faff"/>
<rect x="467.30" y="340.12" width="9.8" height="10.3" fill="#f5faff"/>
<rect x="481.84" y="340.12" width="9.8" height="10.3" fill="#f5faff"/>
<rect x="496.38" y="340.12" width="9.8" height="10.3" fill="#f5faff"/>
<rect x="510.92" y="340.12" width="9.8" height="10.3" fill="#f5faff"/>
<rect x="525.46" y="340.12" width="9.8" height="10.3" fill="#f5faff"/>
<rect x="540.00" y="340.12" width="9.8" height="10.3" fill="#f5faff"/>
<rect x="554.54" y="340.12" width="9.8" height="10.3" fill="#f5faff"/>
<rect x="569.08" y="340.12" width="9.8" height="10.3" fill="#f5faff"/>
<rect x="583.62" y="340.12" width="9.8" height="10.3" fill="#f5faff"/>
<rect x="598.16" y="340.12" width="9.8" height="10.3" fill="#f5faff"/>
<rect x="612.70" y="340.12" width="9.8" height="10.3" fill="#08306b"/>
<rect x="627.24" y="340.12" width="9.8" height="10.3" fill="#08306b"/>
<text transform="translate(21.8,365.00) scale(0.95,1)" text-anchor="end" font-family="Liberation Serif, serif" font-weight="bold" font-size="13.6" fill="#000">S53</text>
<rect x="31.10" y="355.35" width="9.8" height="10.3" fill="#f5faff"/>
<rect x="45.64" y="355.35" width="9.8" height="10.3" fill="#f5faff"/>
<rect x="60.18" y="355.35" width="9.8" height="10.3" fill="#f5faff"/>
<rect x="74.72" y="355.35" width="9.8" height="10.3" fill="#08306b"/>
<rect x="89.26" y="355.35" width="9.8" height="10.3" fill="#08306b"/>
<rect x="103.80" y="355.35" width="9.8" height="10.3" fill="#f5faff"/>
<rect x="118.34" y="355.35" width="9.8" height="10.3" fill="#f5faff"/>
<rect x="132.88" y="355.35" width="9.8" height="10.3" fill="#f5faff"/>
<rect x="147.42" y="355.35" width="9.8" height="10.3" fill="#f5faff"/>
<rect x="161.96" y="355.35" width="9.8" height="10.3" fill="#f5faff"/>
<rect x="176.50" y="355.35" width="9.8" height="10.3" fill="#f5faff"/>
<rect x="191.04" y="355.35" width="9.8" height="10.3" fill="#f5faff"/>
<rect x="205.58" y="355.35" width="9.8" height="10.3" fill="#08306b"/>
<rect x="220.12" y="355.35" width="9.8" height="10.3" fill="#f5faff"/>
<rect x="234.66" y="355.35" width="9.8" height="10.3" fill="#08306b"/>
<rect x="249.20" y="355.35" width="9.8" height="10.3" fill="#08306b"/>
<rect x="263.74" y="355.35" width="9.8" height="10.3" fill="#f5faff"/>
<rect x="278.28" y="355.35" width="9.8" height="10.3" fill="#f5faff"/>
<rect x="292.82" y="355.35" width="9.8" height="10.3" fill="#f5faff"/>
<rect x="307.36" y="355.35" width="9.8" height="10.3" fill="#f5faff"/>
<rect x="321.90" y="355.35" width="9.8" height="10.3" fill="#f5faff"/>
<rect x="336.44" y="355.35" width="9.8" height="10.3" fill="#f5faff"/>
<rect x="350.98" y="355.35" width="9.8" height="10.3" fill="#f5faff"/>
<rect x="365.52" y="355.35" width="9.8" height="10.3" fill="#08306b"/>
<rect x="380.06" y="355.35" width="9.8" height="10.3" fill="#f5faff"/>
<rect x="394.60" y="355.35" width="9.8" height="10.3" fill="#f5faff"/>
<rect x="409.14" y="355.35" width="9.8" height="10.3" fill="#f5faff"/>
<rect x="423.68" y="355.35" width="9.8" height="10.3" fill="#08306b"/>
<rect x="438.22" y="355.35" width="9.8" height="10.3" fill="#f5faff"/>
<rect x="452.76" y="355.35" width="9.8" height="10.3" fill="#f5faff"/>
<rect x="467.30" y="355.35" width="9.8" height="10.3" fill="#f5faff"/>
<rect x="481.84" y="355.35" width="9.8" height="10.3" fill="#f5faff"/>
<rect x="496.38" y="355.35" width="9.8" height="10.3" fill="#f5faff"/>
<rect x="510.92" y="355.35" width="9.8" height="10.3" fill="#f5faff"/>
<rect x="525.46" y="355.35" width="9.8" height="10.3" fill="#f5faff"/>
<rect x="540.00" y="355.35" width="9.8" height="10.3" fill="#f5faff"/>
<rect x="554.54" y="355.35" width="9.8" height="10.3" fill="#f5faff"/>
<rect x="569.08" y="355.35" width="9.8" height="10.3" fill="#f5faff"/>
<rect x="583.62" y="355.35" width="9.8" height="10.3" fill="#f5faff"/>
<rect x="598.16" y="355.35" width="9.8" height="10.3" fill="#f5faff"/>
<rect x="612.70" y="355.35" width="9.8" height="10.3" fill="#f5faff"/>
<rect x="627.24" y="355.35" width="9.8" height="10.3" fill="#f5faff"/>
<text transform="translate(21.8,380.23) scale(0.95,1)" text-anchor="end" font-family="Liberation Serif, serif" font-weight="bold" font-size="13.6" fill="#000">S56</text>
<rect x="31.10" y="370.58" width="9.8" height="10.3" fill="#f5faff"/>
<rect x="45.64" y="370.58" width="9.8" height="10.3" fill="#f5faff"/>
<rect x="60.18" y="370.58" width="9.8" height="10.3" fill="#f5faff"/>
<rect x="74.72" y="370.58" width="9.8" height="10.3" fill="#f5faff"/>
<rect x="89.26" y="370.58" width="9.8" height="10.3" fill="#f5faff"/>
<rect x="103.80" y="370.58" width="9.8" height="10.3" fill="#f5faff"/>
<rect x="118.34" y="370.58" width="9.8" height="10.3" fill="#f5faff"/>
<rect x="132.88" y="370.58" width="9.8" height="10.3" fill="#f5faff"/>
<rect x="147.42" y="370.58" width="9.8" height="10.3" fill="#f5faff"/>
<rect x="161.96" y="370.58" width="9.8" height="10.3" fill="#f5faff"/>
<rect x="176.50" y="370.58" width="9.8" height="10.3" fill="#f5faff"/>
<rect x="191.04" y="370.58" width="9.8" height="10.3" fill="#f5faff"/>
<rect x="205.58" y="370.58" width="9.8" height="10.3" fill="#08306b"/>
<rect x="220.12" y="370.58" width="9.8" height="10.3" fill="#f5faff"/>
<rect x="234.66" y="370.58" width="9.8" height="10.3" fill="#f5faff"/>
<rect x="249.20" y="370.58" width="9.8" height="10.3" fill="#f5faff"/>
<rect x="263.74" y="370.58" width="9.8" height="10.3" fill="#f5faff"/>
<rect x="278.28" y="370.58" width="9.8" height="10.3" fill="#f5faff"/>
<rect x="292.82" y="370.58" width="9.8" height="10.3" fill="#08306b"/>
<rect x="307.36" y="370.58" width="9.8" height="10.3" fill="#f5faff"/>
<rect x="321.90" y="370.58" width="9.8" height="10.3" fill="#f5faff"/>
<rect x="336.44" y="370.58" width="9.8" height="10.3" fill="#f5faff"/>
<rect x="350.98" y="370.58" width="9.8" height="10.3" fill="#f5faff"/>
<rect x="365.52" y="370.58" width="9.8" height="10.3" fill="#f5faff"/>
<rect x="380.06" y="370.58" width="9.8" height="10.3" fill="#f5faff"/>
<rect x="394.60" y="370.58" width="9.8" height="10.3" fill="#f5faff"/>
<rect x="409.14" y="370.58" width="9.8" height="10.3" fill="#f5faff"/>
<rect x="423.68" y="370.58" width="9.8" height="10.3" fill="#f5faff"/>
<rect x="438.22" y="370.58" width="9.8" height="10.3" fill="#f5faff"/>
<rect x="452.76" y="370.58" width="9.8" height="10.3" fill="#f5faff"/>
<rect x="467.30" y="370.58" width="9.8" height="10.3" fill="#f5faff"/>
<rect x="481.84" y="370.58" width="9.8" height="10.3" fill="#f5faff"/>
<rect x="496.38" y="370.58" width="9.8" height="10.3" fill="#08306b"/>
<rect x="510.92" y="370.58" width="9.8" height="10.3" fill="#f5faff"/>
<rect x="525.46" y="370.58" width="9.8" height="10.3" fill="#f5faff"/>
<rect x="540.00" y="370.58" width="9.8" height="10.3" fill="#f5faff"/>
<rect x="554.54" y="370.58" width="9.8" height="10.3" fill="#f5faff"/>
<rect x="569.08" y="370.58" width="9.8" height="10.3" fill="#f5faff"/>
<rect x="583.62" y="370.58" width="9.8" height="10.3" fill="#f5faff"/>
<rect x="598.16" y="370.58" width="9.8" height="10.3" fill="#f5faff"/>
<rect x="612.70" y="370.58" width="9.8" height="10.3" fill="#f5faff"/>
<rect x="627.24" y="370.58" width="9.8" height="10.3" fill="#f5faff"/>
<text transform="translate(21.8,395.47) scale(0.95,1)" text-anchor="end" font-family="Liberation Serif, serif" font-weight="bold" font-size="13.6" fill="#000">S86</text>
<rect x="31.10" y="385.82" width="9.8" height="10.3" fill="#f5faff"/>
<rect x="45.64" y="385.82" width="9.8" height="10.3" fill="#f5faff"/>
<rect x="60.18" y="385.82" width="9.8" height="10.3" fill="#08306b"/>
<rect x="74.72" y="385.82" width="9.8" height="10.3" fill="#f5faff"/>
<rect x="89.26" y="385.82" width="9.8" height="10.3" fill="#f5faff"/>
<rect x="103.80" y="385.82" width="9.8" height="10.3" fill="#f5faff"/>
<rect x="118.34" y="385.82" width="9.8" height="10.3" fill="#f5faff"/>
<rect x="132.88" y="385.82" width="9.8" height="10.3" fill="#f5faff"/>
<rect x="147.42" y="385.82" width="9.8" height="10.3" fill="#f5faff"/>
<rect x="161.96" y="385.82" width="9.8" height="10.3" fill="#f5faff"/>
<rect x="176.50" y="385.82" width="9.8" height="10.3" fill="#f5faff"/>
<rect x="191.04" y="385.82" width="9.8" height="10.3" fill="#f5faff"/>
<rect x="205.58" y="385.82" width="9.8" height="10.3" fill="#f5faff"/>
<rect x="220.12" y="385.82" width="9.8" height="10.3" fill="#f5faff"/>
<rect x="234.66" y="385.82" width="9.8" height="10.3" fill="#f5faff"/>
<rect x="249.20" y="385.82" width="9.8" height="10.3" fill="#f5faff"/>
<rect x="263.74" y="385.82" width="9.8" height="10.3" fill="#f5faff"/>
<rect x="278.28" y="385.82" width="9.8" height="10.3" fill="#f5faff"/>
<rect x="292.82" y="385.82" width="9.8" height="10.3" fill="#f5faff"/>
<rect x="307.36" y="385.82" width="9.8" height="10.3" fill="#f5faff"/>
<rect x="321.90" y="385.82" width="9.8" height="10.3" fill="#f5faff"/>
<rect x="336.44" y="385.82" width="9.8" height="10.3" fill="#f5faff"/>
<rect x="350.98" y="385.82" width="9.8" height="10.3" fill="#f5faff"/>
<rect x="365.52" y="385.82" width="9.8" height="10.3" fill="#f5faff"/>
<rect x="380.06" y="385.82" width="9.8" height="10.3" fill="#f5faff"/>
<rect x="394.60" y="385.82" width="9.8" height="10.3" fill="#f5faff"/>
<rect x="409.14" y="385.82" width="9.8" height="10.3" fill="#f5faff"/>
<rect x="423.68" y="385.82" width="9.8" height="10.3" fill="#f5faff"/>
<rect x="438.22" y="385.82" width="9.8" height="10.3" fill="#f5faff"/>
<rect x="452.76" y="385.82" width="9.8" height="10.3" fill="#f5faff"/>
<rect x="467.30" y="385.82" width="9.8" height="10.3" fill="#f5faff"/>
<rect x="481.84" y="385.82" width="9.8" height="10.3" fill="#f5faff"/>
<rect x="496.38" y="385.82" width="9.8" height="10.3" fill="#f5faff"/>
<rect x="510.92" y="385.82" width="9.8" height="10.3" fill="#f5faff"/>
<rect x="525.46" y="385.82" width="9.8" height="10.3" fill="#f5faff"/>
<rect x="540.00" y="385.82" width="9.8" height="10.3" fill="#f5faff"/>
<rect x="554.54" y="385.82" width="9.8" height="10.3" fill="#f5faff"/>
<rect x="569.08" y="385.82" width="9.8" height="10.3" fill="#f5faff"/>
<rect x="583.62" y="385.82" width="9.8" height="10.3" fill="#f5faff"/>
<rect x="598.16" y="385.82" width="9.8" height="10.3" fill="#f5faff"/>
<rect x="612.70" y="385.82" width="9.8" height="10.3" fill="#f5faff"/>
<rect x="627.24" y="385.82" width="9.8" height="10.3" fill="#f5faff"/>
<text transform="translate(21.8,410.70) scale(0.95,1)" text-anchor="end" font-family="Liberation Serif, serif" font-weight="bold" font-size="13.6" fill="#000">S88</text>
<rect x="31.10" y="401.06" width="9.8" height="10.3" fill="#f5faff"/>
<rect x="45.64" y="401.06" width="9.8" height="10.3" fill="#f5faff"/>
<rect x="60.18" y="401.06" width="9.8" height="10.3" fill="#f5faff"/>
<rect x="74.72" y="401.06" width="9.8" height="10.3" fill="#f5faff"/>
<rect x="89.26" y="401.06" width="9.8" height="10.3" fill="#f5faff"/>
<rect x="103.80" y="401.06" width="9.8" height="10.3" fill="#f5faff"/>
<rect x="118.34" y="401.06" width="9.8" height="10.3" fill="#f5faff"/>
<rect x="132.88" y="401.06" width="9.8" height="10.3" fill="#f5faff"/>
<rect x="147.42" y="401.06" width="9.8" height="10.3" fill="#08306b"/>
<rect x="161.96" y="401.06" width="9.8" height="10.3" fill="#f5faff"/>
<rect x="176.50" y="401.06" width="9.8" height="10.3" fill="#f5faff"/>
<rect x="191.04" y="401.06" width="9.8" height="10.3" fill="#08306b"/>
<rect x="205.58" y="401.06" width="9.8" height="10.3" fill="#f5faff"/>
<rect x="220.12" y="401.06" width="9.8" height="10.3" fill="#f5faff"/>
<rect x="234.66" y="401.06" width="9.8" height="10.3" fill="#f5faff"/>
<rect x="249.20" y="401.06" width="9.8" height="10.3" fill="#f5faff"/>
<rect x="263.74" y="401.06" width="9.8" height="10.3" fill="#f5faff"/>
<rect x="278.28" y="401.06" width="9.8" height="10.3" fill="#f5faff"/>
<rect x="292.82" y="401.06" width="9.8" height="10.3" fill="#f5faff"/>
<rect x="307.36" y="401.06" width="9.8" height="10.3" fill="#f5faff"/>
<rect x="321.90" y="401.06" width="9.8" height="10.3" fill="#f5faff"/>
<rect x="336.44" y="401.06" width="9.8" height="10.3" fill="#f5faff"/>
<rect x="350.98" y="401.06" width="9.8" height="10.3" fill="#08306b"/>
<rect x="365.52" y="401.06" width="9.8" height="10.3" fill="#f5faff"/>
<rect x="380.06" y="401.06" width="9.8" height="10.3" fill="#f5faff"/>
<rect x="394.60" y="401.06" width="9.8" height="10.3" fill="#f5faff"/>
<rect x="409.14" y="401.06" width="9.8" height="10.3" fill="#f5faff"/>
<rect x="423.68" y="401.06" width="9.8" height="10.3" fill="#f5faff"/>
<rect x="438.22" y="401.06" width="9.8" height="10.3" fill="#f5faff"/>
<rect x="452.76" y="401.06" width="9.8" height="10.3" fill="#f5faff"/>
<rect x="467.30" y="401.06" width="9.8" height="10.3" fill="#f5faff"/>
<rect x="481.84" y="401.06" width="9.8" height="10.3" fill="#f5faff"/>
<rect x="496.38" y="401.06" width="9.8" height="10.3" fill="#08306b"/>
<rect x="510.92" y="401.06" width="9.8" height="10.3" fill="#f5faff"/>
<rect x="525.46" y="401.06" width="9.8" height="10.3" fill="#f5faff"/>
<rect x="540.00" y="401.06" width="9.8" height="10.3" fill="#f5faff"/>
<rect x="554.54" y="401.06" width="9.8" height="10.3" fill="#f5faff"/>
<rect x="569.08" y="401.06" width="9.8" height="10.3" fill="#f5faff"/>
<rect x="583.62" y="401.06" width="9.8" height="10.3" fill="#f5faff"/>
<rect x="598.16" y="401.06" width="9.8" height="10.3" fill="#f5faff"/>
<rect x="612.70" y="401.06" width="9.8" height="10.3" fill="#f5faff"/>
<rect x="627.24" y="401.06" width="9.8" height="10.3" fill="#08306b"/>
<text transform="translate(21.8,425.94) scale(0.95,1)" text-anchor="end" font-family="Liberation Serif, serif" font-weight="bold" font-size="13.6" fill="#000">S55</text>
<rect x="31.10" y="416.29" width="9.8" height="10.3" fill="#f5faff"/>
<rect x="45.64" y="416.29" width="9.8" height="10.3" fill="#f5faff"/>
<rect x="60.18" y="416.29" width="9.8" height="10.3" fill="#f5faff"/>
<rect x="74.72" y="416.29" width="9.8" height="10.3" fill="#08306b"/>
<rect x="89.26" y="416.29" width="9.8" height="10.3" fill="#f5faff"/>
<rect x="103.80" y="416.29" width="9.8" height="10.3" fill="#f5faff"/>
<rect x="118.34" y="416.29" width="9.8" height="10.3" fill="#f5faff"/>
<rect x="132.88" y="416.29" width="9.8" height="10.3" fill="#f5faff"/>
<rect x="147.42" y="416.29" width="9.8" height="10.3" fill="#f5faff"/>
<rect x="161.96" y="416.29" width="9.8" height="10.3" fill="#f5faff"/>
<rect x="176.50" y="416.29" width="9.8" height="10.3" fill="#f5faff"/>
<rect x="191.04" y="416.29" width="9.8" height="10.3" fill="#f5faff"/>
<rect x="205.58" y="416.29" width="9.8" height="10.3" fill="#f5faff"/>
<rect x="220.12" y="416.29" width="9.8" height="10.3" fill="#f5faff"/>
<rect x="234.66" y="416.29" width="9.8" height="10.3" fill="#08306b"/>
<rect x="249.20" y="416.29" width="9.8" height="10.3" fill="#f5faff"/>
<rect x="263.74" y="416.29" width="9.8" height="10.3" fill="#f5faff"/>
<rect x="278.28" y="416.29" width="9.8" height="10.3" fill="#f5faff"/>
<rect x="292.82" y="416.29" width="9.8" height="10.3" fill="#f5faff"/>
<rect x="307.36" y="416.29" width="9.8" height="10.3" fill="#f5faff"/>
<rect x="321.90" y="416.29" width="9.8" height="10.3" fill="#f5faff"/>
<rect x="336.44" y="416.29" width="9.8" height="10.3" fill="#f5faff"/>
<rect x="350.98" y="416.29" width="9.8" height="10.3" fill="#f5faff"/>
<rect x="365.52" y="416.29" width="9.8" height="10.3" fill="#08306b"/>
<rect x="380.06" y="416.29" width="9.8" height="10.3" fill="#f5faff"/>
<rect x="394.60" y="416.29" width="9.8" height="10.3" fill="#f5faff"/>
<rect x="409.14" y="416.29" width="9.8" height="10.3" fill="#f5faff"/>
<rect x="423.68" y="416.29" width="9.8" height="10.3" fill="#f5faff"/>
<rect x="438.22" y="416.29" width="9.8" height="10.3" fill="#f5faff"/>
<rect x="452.76" y="416.29" width="9.8" height="10.3" fill="#f5faff"/>
<rect x="467.30" y="416.29" width="9.8" height="10.3" fill="#f5faff"/>
<rect x="481.84" y="416.29" width="9.8" height="10.3" fill="#f5faff"/>
<rect x="496.38" y="416.29" width="9.8" height="10.3" fill="#f5faff"/>
<rect x="510.92" y="416.29" width="9.8" height="10.3" fill="#f5faff"/>
<rect x="525.46" y="416.29" width="9.8" height="10.3" fill="#f5faff"/>
<rect x="540.00" y="416.29" width="9.8" height="10.3" fill="#f5faff"/>
<rect x="554.54" y="416.29" width="9.8" height="10.3" fill="#f5faff"/>
<rect x="569.08" y="416.29" width="9.8" height="10.3" fill="#f5faff"/>
<rect x="583.62" y="416.29" width="9.8" height="10.3" fill="#f5faff"/>
<rect x="598.16" y="416.29" width="9.8" height="10.3" fill="#f5faff"/>
<rect x="612.70" y="416.29" width="9.8" height="10.3" fill="#f5faff"/>
<rect x="627.24" y="416.29" width="9.8" height="10.3" fill="#f5faff"/>
<text transform="translate(21.8,441.17) scale(0.95,1)" text-anchor="end" font-family="Liberation Serif, serif" font-weight="bold" font-size="13.6" fill="#000">S89</text>
<rect x="31.10" y="431.52" width="9.8" height="10.3" fill="#08306b"/>
<rect x="45.64" y="431.52" width="9.8" height="10.3" fill="#f5faff"/>
<rect x="60.18" y="431.52" width="9.8" height="10.3" fill="#f5faff"/>
<rect x="74.72" y="431.52" width="9.8" height="10.3" fill="#f5faff"/>
<rect x="89.26" y="431.52" width="9.8" height="10.3" fill="#08306b"/>
<rect x="103.80" y="431.52" width="9.8" height="10.3" fill="#f5faff"/>
<rect x="118.34" y="431.52" width="9.8" height="10.3" fill="#f5faff"/>
<rect x="132.88" y="431.52" width="9.8" height="10.3" fill="#f5faff"/>
<rect x="147.42" y="431.52" width="9.8" height="10.3" fill="#08306b"/>
<rect x="161.96" y="431.52" width="9.8" height="10.3" fill="#f5faff"/>
<rect x="176.50" y="431.52" width="9.8" height="10.3" fill="#f5faff"/>
<rect x="191.04" y="431.52" width="9.8" height="10.3" fill="#08306b"/>
<rect x="205.58" y="431.52" width="9.8" height="10.3" fill="#f5faff"/>
<rect x="220.12" y="431.52" width="9.8" height="10.3" fill="#f5faff"/>
<rect x="234.66" y="431.52" width="9.8" height="10.3" fill="#f5faff"/>
<rect x="249.20" y="431.52" width="9.8" height="10.3" fill="#f5faff"/>
<rect x="263.74" y="431.52" width="9.8" height="10.3" fill="#f5faff"/>
<rect x="278.28" y="431.52" width="9.8" height="10.3" fill="#f5faff"/>
<rect x="292.82" y="431.52" width="9.8" height="10.3" fill="#f5faff"/>
<rect x="307.36" y="431.52" width="9.8" height="10.3" fill="#f5faff"/>
<rect x="321.90" y="431.52" width="9.8" height="10.3" fill="#f5faff"/>
<rect x="336.44" y="431.52" width="9.8" height="10.3" fill="#f5faff"/>
<rect x="350.98" y="431.52" width="9.8" height="10.3" fill="#f5faff"/>
<rect x="365.52" y="431.52" width="9.8" height="10.3" fill="#f5faff"/>
<rect x="380.06" y="431.52" width="9.8" height="10.3" fill="#f5faff"/>
<rect x="394.60" y="431.52" width="9.8" height="10.3" fill="#f5faff"/>
<rect x="409.14" y="431.52" width="9.8" height="10.3" fill="#f5faff"/>
<rect x="423.68" y="431.52" width="9.8" height="10.3" fill="#f5faff"/>
<rect x="438.22" y="431.52" width="9.8" height="10.3" fill="#08306b"/>
<rect x="452.76" y="431.52" width="9.8" height="10.3" fill="#f5faff"/>
<rect x="467.30" y="431.52" width="9.8" height="10.3" fill="#f5faff"/>
<rect x="481.84" y="431.52" width="9.8" height="10.3" fill="#f5faff"/>
<rect x="496.38" y="431.52" width="9.8" height="10.3" fill="#f5faff"/>
<rect x="510.92" y="431.52" width="9.8" height="10.3" fill="#08306b"/>
<rect x="525.46" y="431.52" width="9.8" height="10.3" fill="#f5faff"/>
<rect x="540.00" y="431.52" width="9.8" height="10.3" fill="#08306b"/>
<rect x="554.54" y="431.52" width="9.8" height="10.3" fill="#08306b"/>
<rect x="569.08" y="431.52" width="9.8" height="10.3" fill="#08306b"/>
<rect x="583.62" y="431.52" width="9.8" height="10.3" fill="#f5faff"/>
<rect x="598.16" y="431.52" width="9.8" height="10.3" fill="#08306b"/>
<rect x="612.70" y="431.52" width="9.8" height="10.3" fill="#f5faff"/>
<rect x="627.24" y="431.52" width="9.8" height="10.3" fill="#f5faff"/>
<text transform="translate(21.8,456.41) scale(0.95,1)" text-anchor="end" font-family="Liberation Serif, serif" font-weight="bold" font-size="13.6" fill="#000">S13</text>
<rect x="31.10" y="446.76" width="9.8" height="10.3" fill="#f5faff"/>
<rect x="45.64" y="446.76" width="9.8" height="10.3" fill="#08306b"/>
<rect x="60.18" y="446.76" width="9.8" height="10.3" fill="#f5faff"/>
<rect x="74.72" y="446.76" width="9.8" height="10.3" fill="#08306b"/>
<rect x="89.26" y="446.76" width="9.8" height="10.3" fill="#f5faff"/>
<rect x="103.80" y="446.76" width="9.8" height="10.3" fill="#f5faff"/>
<rect x="118.34" y="446.76" width="9.8" height="10.3" fill="#f5faff"/>
<rect x="132.88" y="446.76" width="9.8" height="10.3" fill="#f5faff"/>
<rect x="147.42" y="446.76" width="9.8" height="10.3" fill="#f5faff"/>
<rect x="161.96" y="446.76" width="9.8" height="10.3" fill="#f5faff"/>
<rect x="176.50" y="446.76" width="9.8" height="10.3" fill="#f5faff"/>
<rect x="191.04" y="446.76" width="9.8" height="10.3" fill="#f5faff"/>
<rect x="205.58" y="446.76" width="9.8" height="10.3" fill="#f5faff"/>
<rect x="220.12" y="446.76" width="9.8" height="10.3" fill="#f5faff"/>
<rect x="234.66" y="446.76" width="9.8" height="10.3" fill="#f5faff"/>
<rect x="249.20" y="446.76" width="9.8" height="10.3" fill="#f5faff"/>
<rect x="263.74" y="446.76" width="9.8" height="10.3" fill="#f5faff"/>
<rect x="278.28" y="446.76" width="9.8" height="10.3" fill="#f5faff"/>
<rect x="292.82" y="446.76" width="9.8" height="10.3" fill="#f5faff"/>
<rect x="307.36" y="446.76" width="9.8" height="10.3" fill="#f5faff"/>
<rect x="321.90" y="446.76" width="9.8" height="10.3" fill="#f5faff"/>
<rect x="336.44" y="446.76" width="9.8" height="10.3" fill="#f5faff"/>
<rect x="350.98" y="446.76" width="9.8" height="10.3" fill="#f5faff"/>
<rect x="365.52" y="446.76" width="9.8" height="10.3" fill="#f5faff"/>
<rect x="380.06" y="446.76" width="9.8" height="10.3" fill="#f5faff"/>
<rect x="394.60" y="446.76" width="9.8" height="10.3" fill="#f5faff"/>
<rect x="409.14" y="446.76" width="9.8" height="10.3" fill="#f5faff"/>
<rect x="423.68" y="446.76" width="9.8" height="10.3" fill="#08306b"/>
<rect x="438.22" y="446.76" width="9.8" height="10.3" fill="#08306b"/>
<rect x="452.76" y="446.76" width="9.8" height="10.3" fill="#08306b"/>
<rect x="467.30" y="446.76" width="9.8" height="10.3" fill="#f5faff"/>
<rect x="481.84" y="446.76" width="9.8" height="10.3" fill="#f5faff"/>
<rect x="496.38" y="446.76" width="9.8" height="10.3" fill="#f5faff"/>
<rect x="510.92" y="446.76" width="9.8" height="10.3" fill="#f5faff"/>
<rect x="525.46" y="446.76" width="9.8" height="10.3" fill="#f5faff"/>
<rect x="540.00" y="446.76" width="9.8" height="10.3" fill="#f5faff"/>
<rect x="554.54" y="446.76" width="9.8" height="10.3" fill="#f5faff"/>
<rect x="569.08" y="446.76" width="9.8" height="10.3" fill="#f5faff"/>
<rect x="583.62" y="446.76" width="9.8" height="10.3" fill="#f5faff"/>
<rect x="598.16" y="446.76" width="9.8" height="10.3" fill="#f5faff"/>
<rect x="612.70" y="446.76" width="9.8" height="10.3" fill="#f5faff"/>
<rect x="627.24" y="446.76" width="9.8" height="10.3" fill="#f5faff"/>
<text transform="translate(21.8,471.64) scale(0.95,1)" text-anchor="end" font-family="Liberation Serif, serif" font-weight="bold" font-size="13.6" fill="#000">S29</text>
<rect x="31.10" y="462.00" width="9.8" height="10.3" fill="#f5faff"/>
<rect x="45.64" y="462.00" width="9.8" height="10.3" fill="#f5faff"/>
<rect x="60.18" y="462.00" width="9.8" height="10.3" fill="#f5faff"/>
<rect x="74.72" y="462.00" width="9.8" height="10.3" fill="#f5faff"/>
<rect x="89.26" y="462.00" width="9.8" height="10.3" fill="#f5faff"/>
<rect x="103.80" y="462.00" width="9.8" height="10.3" fill="#f5faff"/>
<rect x="118.34" y="462.00" width="9.8" height="10.3" fill="#f5faff"/>
<rect x="132.88" y="462.00" width="9.8" height="10.3" fill="#f5faff"/>
<rect x="147.42" y="462.00" width="9.8" height="10.3" fill="#f5faff"/>
<rect x="161.96" y="462.00" width="9.8" height="10.3" fill="#f5faff"/>
<rect x="176.50" y="462.00" width="9.8" height="10.3" fill="#f5faff"/>
<rect x="191.04" y="462.00" width="9.8" height="10.3" fill="#f5faff"/>
<rect x="205.58" y="462.00" width="9.8" height="10.3" fill="#f5faff"/>
<rect x="220.12" y="462.00" width="9.8" height="10.3" fill="#f5faff"/>
<rect x="234.66" y="462.00" width="9.8" height="10.3" fill="#f5faff"/>
<rect x="249.20" y="462.00" width="9.8" height="10.3" fill="#f5faff"/>
<rect x="263.74" y="462.00" width="9.8" height="10.3" fill="#f5faff"/>
<rect x="278.28" y="462.00" width="9.8" height="10.3" fill="#f5faff"/>
<rect x="292.82" y="462.00" width="9.8" height="10.3" fill="#f5faff"/>
<rect x="307.36" y="462.00" width="9.8" height="10.3" fill="#f5faff"/>
<rect x="321.90" y="462.00" width="9.8" height="10.3" fill="#f5faff"/>
<rect x="336.44" y="462.00" width="9.8" height="10.3" fill="#f5faff"/>
<rect x="350.98" y="462.00" width="9.8" height="10.3" fill="#f5faff"/>
<rect x="365.52" y="462.00" width="9.8" height="10.3" fill="#08306b"/>
<rect x="380.06" y="462.00" width="9.8" height="10.3" fill="#f5faff"/>
<rect x="394.60" y="462.00" width="9.8" height="10.3" fill="#f5faff"/>
<rect x="409.14" y="462.00" width="9.8" height="10.3" fill="#f5faff"/>
<rect x="423.68" y="462.00" width="9.8" height="10.3" fill="#f5faff"/>
<rect x="438.22" y="462.00" width="9.8" height="10.3" fill="#f5faff"/>
<rect x="452.76" y="462.00" width="9.8" height="10.3" fill="#f5faff"/>
<rect x="467.30" y="462.00" width="9.8" height="10.3" fill="#f5faff"/>
<rect x="481.84" y="462.00" width="9.8" height="10.3" fill="#f5faff"/>
<rect x="496.38" y="462.00" width="9.8" height="10.3" fill="#f5faff"/>
<rect x="510.92" y="462.00" width="9.8" height="10.3" fill="#f5faff"/>
<rect x="525.46" y="462.00" width="9.8" height="10.3" fill="#f5faff"/>
<rect x="540.00" y="462.00" width="9.8" height="10.3" fill="#f5faff"/>
<rect x="554.54" y="462.00" width="9.8" height="10.3" fill="#f5faff"/>
<rect x="569.08" y="462.00" width="9.8" height="10.3" fill="#f5faff"/>
<rect x="583.62" y="462.00" width="9.8" height="10.3" fill="#f5faff"/>
<rect x="598.16" y="462.00" width="9.8" height="10.3" fill="#f5faff"/>
<rect x="612.70" y="462.00" width="9.8" height="10.3" fill="#f5faff"/>
<rect x="627.24" y="462.00" width="9.8" height="10.3" fill="#f5faff"/>
<text x="9.9" y="553.8" font-family="Liberation Sans, sans-serif" font-size="27.3" fill="#231f20" stroke="#231f20" stroke-width="0.45">b</text>
<line x1="54" y1="602.2" x2="562.5" y2="602.2" stroke="#c2c2c2" stroke-width="1.3"/>
<text transform="translate(49.0,604.40) scale(1.6,1)" text-anchor="end" font-family="Liberation Sans, sans-serif" font-size="6" fill="#4a4a4a" stroke="#4a4a4a" stroke-width="0.1">S8</text>
<polygon points="76.80,600.00 117.80,600.00 117.80,598.80 128.80,602.20 117.80,605.60 117.80,604.40 76.80,604.40" fill="#2b2f6e" stroke="#222" stroke-width="0.6" stroke-opacity="0.85"/>
<polygon points="161.00,600.00 152.40,600.00 152.40,598.80 141.40,602.20 152.40,605.60 152.40,604.40 161.00,604.40" fill="#b3de69" stroke="#222" stroke-width="0.6" stroke-opacity="0.85"/>
<polygon points="193.60,600.00 172.80,600.00 172.80,598.80 161.80,602.20 172.80,605.60 172.80,604.40 193.60,604.40" fill="#fccde5" stroke="#222" stroke-width="0.6" stroke-opacity="0.85"/>
<line x1="54" y1="643.36" x2="562.5" y2="643.36" stroke="#c2c2c2" stroke-width="1.3"/>
<text transform="translate(46.6,645.56) scale(1.6,1)" text-anchor="end" font-family="Liberation Sans, sans-serif" font-size="6" fill="#4a4a4a" stroke="#4a4a4a" stroke-width="0.1">S55</text>
<polygon points="505.90,641.16 499.40,641.16 499.40,639.96 488.40,643.36 499.40,646.76 499.40,645.56 505.90,645.56" fill="#ffffb3" stroke="#222" stroke-width="0.6" stroke-opacity="0.85"/>
<polygon points="539.60,641.16 533.00,641.16 533.00,639.96 522.00,643.36 533.00,646.76 533.00,645.56 539.60,645.56" fill="#8dd3c7" stroke="#222" stroke-width="0.6" stroke-opacity="0.85"/>
<line x1="54" y1="684.51" x2="562.5" y2="684.51" stroke="#c2c2c2" stroke-width="1.3"/>
<text transform="translate(49.0,686.71) scale(1.6,1)" text-anchor="end" font-family="Liberation Sans, sans-serif" font-size="6" fill="#4a4a4a" stroke="#4a4a4a" stroke-width="0.1">S55</text>
<polygon points="80.20,682.31 121.80,682.31 121.80,681.11 132.80,684.51 121.80,687.91 121.80,686.71 80.20,686.71" fill="#2b2f6e" stroke="#222" stroke-width="0.6" stroke-opacity="0.85"/>
<polygon points="163.90,682.31 156.00,682.31 156.00,681.11 145.00,684.51 156.00,687.91 156.00,686.71 163.90,686.71" fill="#b3de69" stroke="#222" stroke-width="0.6" stroke-opacity="0.85"/>
<polygon points="196.80,682.31 176.70,682.31 176.70,681.11 165.70,684.51 176.70,687.91 176.70,686.71 196.80,686.71" fill="#fccde5" stroke="#222" stroke-width="0.6" stroke-opacity="0.85"/>
<polygon points="262.40,682.31 256.20,682.31 256.20,681.11 245.20,684.51 256.20,687.91 256.20,686.71 262.40,686.71" fill="#fdcc94" stroke="#222" stroke-width="0.6" stroke-opacity="0.85"/>
<polygon points="351.40,682.31 344.10,682.31 344.10,681.11 333.10,684.51 344.10,687.91 344.10,686.71 351.40,686.71" fill="#bc80bd" stroke="#222" stroke-width="0.6" stroke-opacity="0.85"/>
<polygon points="411.70,682.31 402.50,682.31 402.50,681.11 391.50,684.51 402.50,687.91 402.50,686.71 411.70,686.71" fill="#fb8072" stroke="#222" stroke-width="0.6" stroke-opacity="0.85"/>
<polygon points="478.00,682.31 470.90,682.31 470.90,681.11 459.90,684.51 470.90,687.91 470.90,686.71 478.00,686.71" fill="#bc80bd" stroke="#222" stroke-width="0.6" stroke-opacity="0.85"/>
<polygon points="520.70,682.31 517.60,682.31 517.60,681.11 506.60,684.51 517.60,687.91 517.60,686.71 520.70,686.71" fill="#ff38ee" stroke="#222" stroke-width="0.6" stroke-opacity="0.85"/>
<line x1="54" y1="725.67" x2="562.5" y2="725.67" stroke="#c2c2c2" stroke-width="1.3"/>
<text transform="translate(46.6,727.87) scale(1.6,1)" text-anchor="end" font-family="Liberation Sans, sans-serif" font-size="6" fill="#4a4a4a" stroke="#4a4a4a" stroke-width="0.1">S51</text>
<polygon points="105.90,723.47 112.70,723.47 112.70,722.27 123.70,725.67 112.70,729.07 112.70,727.87 105.90,727.87" fill="#ffffb3" stroke="#222" stroke-width="0.6" stroke-opacity="0.85"/>
<line x1="54" y1="766.83" x2="562.5" y2="766.83" stroke="#c2c2c2" stroke-width="1.3"/>
<text transform="translate(49.0,769.03) scale(1.6,1)" text-anchor="end" font-family="Liberation Sans, sans-serif" font-size="6" fill="#4a4a4a" stroke="#4a4a4a" stroke-width="0.1">S51</text>
<polygon points="91.70,764.63 94.10,764.63 94.10,763.43 105.10,766.83 94.10,770.23 94.10,769.03 91.70,769.03" fill="#ff38ee" stroke="#222" stroke-width="0.6" stroke-opacity="0.85"/>
<polygon points="126.50,763.43 132.60,766.83 126.50,770.23" fill="#d9d9d9" stroke="#222" stroke-width="0.6" stroke-opacity="0.85"/>
<polygon points="133.10,764.63 141.20,764.63 141.20,763.43 152.20,766.83 141.20,770.23 141.20,769.03 133.10,769.03" fill="#bc80bd" stroke="#222" stroke-width="0.6" stroke-opacity="0.85"/>
<polygon points="222.90,764.63 229.20,764.63 229.20,763.43 240.20,766.83 229.20,770.23 229.20,769.03 222.90,769.03" fill="#fdcc94" stroke="#222" stroke-width="0.6" stroke-opacity="0.85"/>
<polygon points="288.40,764.63 308.90,764.63 308.90,763.43 319.90,766.83 308.90,770.23 308.90,769.03 288.40,769.03" fill="#fccde5" stroke="#222" stroke-width="0.6" stroke-opacity="0.85"/>
<polygon points="321.10,764.63 329.30,764.63 329.30,763.43 340.30,766.83 329.30,770.23 329.30,769.03 321.10,769.03" fill="#b3de69" stroke="#222" stroke-width="0.6" stroke-opacity="0.85"/>
<polygon points="404.80,764.63 363.80,764.63 363.80,763.43 352.80,766.83 363.80,770.23 363.80,769.03 404.80,769.03" fill="#2b2f6e" stroke="#222" stroke-width="0.6" stroke-opacity="0.85"/>
<line x1="54" y1="807.99" x2="562.5" y2="807.99" stroke="#c2c2c2" stroke-width="1.3"/>
<text transform="translate(49.0,810.19) scale(1.6,1)" text-anchor="end" font-family="Liberation Sans, sans-serif" font-size="6" fill="#4a4a4a" stroke="#4a4a4a" stroke-width="0.1">S29</text>
<polygon points="76.90,805.79 118.00,805.79 118.00,804.59 129.00,807.99 118.00,811.39 118.00,810.19 76.90,810.19" fill="#2b2f6e" stroke="#222" stroke-width="0.6" stroke-opacity="0.85"/>
<polygon points="161.00,805.79 152.80,805.79 152.80,804.59 141.80,807.99 152.80,811.39 152.80,810.19 161.00,810.19" fill="#b3de69" stroke="#222" stroke-width="0.6" stroke-opacity="0.85"/>
<polygon points="193.70,805.79 173.10,805.79 173.10,804.59 162.10,807.99 173.10,811.39 173.10,810.19 193.70,810.19" fill="#fccde5" stroke="#222" stroke-width="0.6" stroke-opacity="0.85"/>
<polygon points="258.90,805.79 253.30,805.79 253.30,804.59 242.30,807.99 253.30,811.39 253.30,810.19 258.90,810.19" fill="#fdcc94" stroke="#222" stroke-width="0.6" stroke-opacity="0.85"/>
<polygon points="348.00,805.79 340.90,805.79 340.90,804.59 329.90,807.99 340.90,811.39 340.90,810.19 348.00,810.19" fill="#bc80bd" stroke="#222" stroke-width="0.6" stroke-opacity="0.85"/>
<polygon points="355.60,804.59 349.00,807.99 355.60,811.39" fill="#d9d9d9" stroke="#222" stroke-width="0.6" stroke-opacity="0.85"/>
<polygon points="390.70,805.79 387.60,805.79 387.60,804.59 376.60,807.99 387.60,811.39 387.60,810.19 390.70,810.19" fill="#ff38ee" stroke="#222" stroke-width="0.6" stroke-opacity="0.85"/>
<line x1="54" y1="849.14" x2="562.5" y2="849.14" stroke="#c2c2c2" stroke-width="1.3"/>
<text transform="translate(49.0,851.34) scale(1.6,1)" text-anchor="end" font-family="Liberation Sans, sans-serif" font-size="6" fill="#4a4a4a" stroke="#4a4a4a" stroke-width="0.1">S14</text>
<polygon points="76.90,846.94 118.00,846.94 118.00,845.74 129.00,849.14 118.00,852.54 118.00,851.34 76.90,851.34" fill="#2b2f6e" stroke="#222" stroke-width="0.6" stroke-opacity="0.85"/>
<polygon points="161.00,846.94 152.80,846.94 152.80,845.74 141.80,849.14 152.80,852.54 152.80,851.34 161.00,851.34" fill="#b3de69" stroke="#222" stroke-width="0.6" stroke-opacity="0.85"/>
<polygon points="193.70,846.94 173.10,846.94 173.10,845.74 162.10,849.14 173.10,852.54 173.10,851.34 193.70,851.34" fill="#fccde5" stroke="#222" stroke-width="0.6" stroke-opacity="0.85"/>
<polygon points="347.70,846.94 340.80,846.94 340.80,845.74 329.80,849.14 340.80,852.54 340.80,851.34 347.70,851.34" fill="#bc80bd" stroke="#222" stroke-width="0.6" stroke-opacity="0.85"/>
<polygon points="355.70,845.74 348.20,849.14 355.70,852.54" fill="#d9d9d9" stroke="#222" stroke-width="0.6" stroke-opacity="0.85"/>
<polygon points="390.70,846.94 388.10,846.94 388.10,845.74 377.10,849.14 388.10,852.54 388.10,851.34 390.70,851.34" fill="#ff38ee" stroke="#222" stroke-width="0.6" stroke-opacity="0.85"/>
<line x1="54" y1="890.3" x2="562.5" y2="890.3" stroke="#c2c2c2" stroke-width="1.3"/>
<text transform="translate(49.0,892.50) scale(1.6,1)" text-anchor="end" font-family="Liberation Sans, sans-serif" font-size="6" fill="#4a4a4a" stroke="#4a4a4a" stroke-width="0.1">S10</text>
<polygon points="91.70,888.10 94.10,888.10 94.10,886.90 105.10,890.30 94.10,893.70 94.10,892.50 91.70,892.50" fill="#ff38ee" stroke="#222" stroke-width="0.6" stroke-opacity="0.85"/>
<polygon points="105.90,888.10 113.10,888.10 113.10,886.90 124.10,890.30 113.10,893.70 113.10,892.50 105.90,892.50" fill="#ffffb3" stroke="#222" stroke-width="0.6" stroke-opacity="0.85"/>
<polygon points="126.50,886.90 133.10,890.30 126.50,893.70" fill="#d9d9d9" stroke="#222" stroke-width="0.6" stroke-opacity="0.85"/>
<polygon points="134.00,888.10 141.40,888.10 141.40,886.90 152.40,890.30 141.40,893.70 141.40,892.50 134.00,892.50" fill="#bc80bd" stroke="#222" stroke-width="0.6" stroke-opacity="0.85"/>
<polygon points="222.50,888.10 229.10,888.10 229.10,886.90 240.10,890.30 229.10,893.70 229.10,892.50 222.50,892.50" fill="#fdcc94" stroke="#222" stroke-width="0.6" stroke-opacity="0.85"/>
<polygon points="288.30,888.10 309.40,888.10 309.40,886.90 320.40,890.30 309.40,893.70 309.40,892.50 288.30,892.50" fill="#fccde5" stroke="#222" stroke-width="0.6" stroke-opacity="0.85"/>
<polygon points="321.40,888.10 329.30,888.10 329.30,886.90 340.30,890.30 329.30,893.70 329.30,892.50 321.40,892.50" fill="#b3de69" stroke="#222" stroke-width="0.6" stroke-opacity="0.85"/>
<polygon points="404.90,888.10 364.50,888.10 364.50,886.90 353.50,890.30 364.50,893.70 364.50,892.50 404.90,892.50" fill="#2b2f6e" stroke="#222" stroke-width="0.6" stroke-opacity="0.85"/>
<line x1="54" y1="914.8" x2="562.5" y2="914.8" stroke="#aaa" stroke-width="1.8"/>
<line x1="56.40" y1="915.5" x2="56.40" y2="916.6" stroke="#333" stroke-width="0.9"/>
<text transform="translate(56.40,921.3) scale(1.75,1)" text-anchor="middle" font-family="Liberation Sans, sans-serif" font-size="5" fill="#3a3a3a" stroke="#3a3a3a" stroke-width="0.12">0</text>
<line x1="163.10" y1="915.5" x2="163.10" y2="916.6" stroke="#333" stroke-width="0.9"/>
<text transform="translate(163.10,921.3) scale(1.75,1)" text-anchor="middle" font-family="Liberation Sans, sans-serif" font-size="5" fill="#3a3a3a" stroke="#3a3a3a" stroke-width="0.12">5000</text>
<line x1="269.80" y1="915.5" x2="269.80" y2="916.6" stroke="#333" stroke-width="0.9"/>
<text transform="translate(269.80,921.3) scale(1.75,1)" text-anchor="middle" font-family="Liberation Sans, sans-serif" font-size="5" fill="#3a3a3a" stroke="#3a3a3a" stroke-width="0.12">10000</text>
<line x1="376.50" y1="915.5" x2="376.50" y2="916.6" stroke="#333" stroke-width="0.9"/>
<text transform="translate(376.50,921.3) scale(1.75,1)" text-anchor="middle" font-family="Liberation Sans, sans-serif" font-size="5" fill="#3a3a3a" stroke="#3a3a3a" stroke-width="0.12">15000</text>
<line x1="483.20" y1="915.5" x2="483.20" y2="916.6" stroke="#333" stroke-width="0.9"/>
<text transform="translate(483.20,921.3) scale(1.75,1)" text-anchor="middle" font-family="Liberation Sans, sans-serif" font-size="5" fill="#3a3a3a" stroke="#3a3a3a" stroke-width="0.12">20000</text>
<text transform="translate(26.4,746.2) rotate(-90) scale(1,1.85)" text-anchor="middle" font-family="Liberation Sans, sans-serif" font-size="5.9" fill="#222" stroke="#222" stroke-width="0.15">Sample</text>
<rect x="580.3" y="703.50" width="14.6" height="7.7" fill="#8dd3c7" stroke="#000" stroke-opacity="0.5" stroke-width="0.9"/>
<text transform="translate(601.5,708.70) scale(1.64,1)" font-family="Liberation Serif, serif" font-weight="bold" font-style="italic" font-size="10.35" fill="#111">aac(6’)-Ib7</text>
<rect x="580.3" y="713.05" width="14.6" height="7.7" fill="#ffffb3" stroke="#000" stroke-opacity="0.5" stroke-width="0.9"/>
<text transform="translate(601.5,718.57) scale(1.64,1)" font-family="Liberation Serif, serif" font-weight="bold" font-style="italic" font-size="10.35" fill="#111">ant(3’)-Ia</text>
<rect x="580.3" y="722.60" width="14.6" height="7.7" fill="#fdcc94" stroke="#000" stroke-opacity="0.5" stroke-width="0.9"/>
<text transform="translate(601.5,728.44) scale(1.64,1)" font-family="Liberation Serif, serif" font-weight="bold" font-style="italic" font-size="10.35" fill="#111">armA</text>
<rect x="580.3" y="732.15" width="14.6" height="7.7" fill="#fb8072" stroke="#000" stroke-opacity="0.5" stroke-width="0.9"/>
<text transform="translate(601.5,738.31) scale(1.64,1)" font-family="Liberation Serif, serif" font-weight="bold" font-style="italic" font-size="10.35" fill="#111">blaPER-7</text>
<rect x="580.3" y="741.70" width="14.6" height="7.7" fill="#ff38ee" stroke="#000" stroke-opacity="0.5" stroke-width="0.9"/>
<text transform="translate(601.5,748.18) scale(1.64,1)" font-family="Liberation Serif, serif" font-weight="bold" font-style="italic" font-size="10.35" fill="#111">catB8</text>
<rect x="580.3" y="751.25" width="14.6" height="7.7" fill="#2b2f6e" stroke="#000" stroke-opacity="0.5" stroke-width="0.9"/>
<text transform="translate(601.5,758.05) scale(1.64,1)" font-family="Liberation Serif, serif" font-weight="bold" font-size="10.35" fill="#111">ISAba24</text>
<rect x="580.3" y="760.80" width="14.6" height="7.7" fill="#b3de69" stroke="#000" stroke-opacity="0.5" stroke-width="0.9"/>
<text transform="translate(601.5,767.92) scale(1.64,1)" font-family="Liberation Serif, serif" font-weight="bold" font-style="italic" font-size="10.35" fill="#111">mph(E)</text>
<rect x="580.3" y="770.35" width="14.6" height="7.7" fill="#fccde5" stroke="#000" stroke-opacity="0.5" stroke-width="0.9"/>
<text transform="translate(601.5,777.79) scale(1.64,1)" font-family="Liberation Serif, serif" font-weight="bold" font-style="italic" font-size="10.35" fill="#111">msr(E)</text>
<rect x="580.3" y="779.90" width="14.6" height="7.7" fill="#d9d9d9" stroke="#000" stroke-opacity="0.5" stroke-width="0.9"/>
<text transform="translate(601.5,787.66) scale(1.64,1)" font-family="Liberation Serif, serif" font-weight="bold" font-style="italic" font-size="10.35" fill="#111">qacE</text>
<rect x="580.3" y="789.45" width="14.6" height="7.7" fill="#bc80bd" stroke="#000" stroke-opacity="0.5" stroke-width="0.9"/>
<text transform="translate(601.5,797.53) scale(1.64,1)" font-family="Liberation Serif, serif" font-weight="bold" font-style="italic" font-size="10.35" fill="#111">sul1</text>
</svg></body></html>
